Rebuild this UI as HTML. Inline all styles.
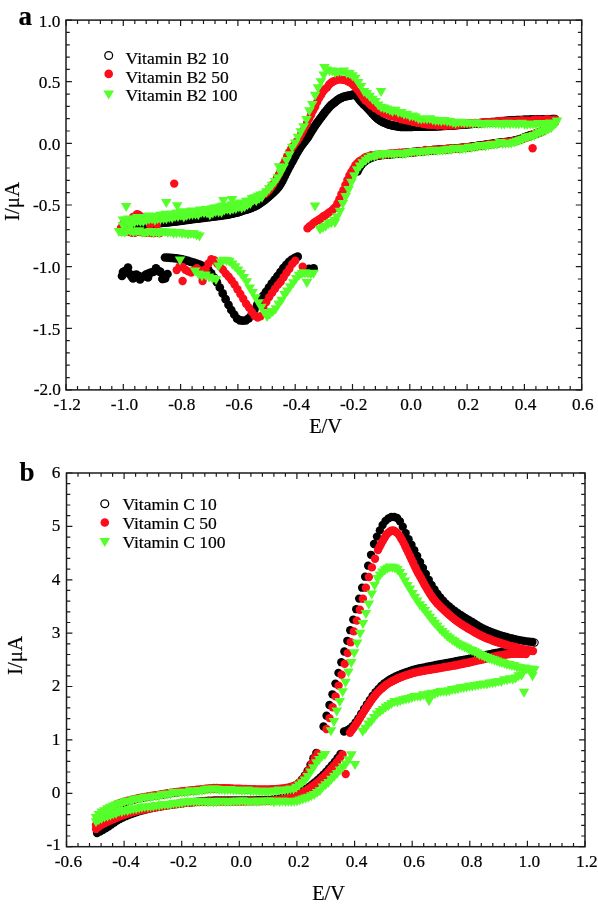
<!DOCTYPE html>
<html lang="en">
<head>
<meta charset="utf-8">
<title>Cyclic voltammograms</title>
<style>html,body{margin:0;padding:0;background:#fff}svg{display:block}</style>
</head>
<body>
<svg width="598" height="907" viewBox="0 0 598 907" font-family='"Liberation Serif", "DejaVu Serif", serif'>
<rect width="598" height="907" fill="#fff"/>
<g>
<g fill="#000000"><circle cx="122" cy="228" r="4.35"/><circle cx="123.4" cy="227.7" r="4.35"/><circle cx="124.9" cy="227.4" r="4.35"/><circle cx="126.3" cy="227.2" r="4.35"/><circle cx="127.7" cy="226.9" r="4.35"/><circle cx="129.1" cy="226.7" r="4.35"/><circle cx="130.6" cy="226.4" r="4.35"/><circle cx="132" cy="226.2" r="4.35"/><circle cx="133.4" cy="225.9" r="4.35"/><circle cx="134.9" cy="225.7" r="4.35"/><circle cx="136.3" cy="225.5" r="4.35"/><circle cx="137.7" cy="225.3" r="4.35"/><circle cx="139.1" cy="225.1" r="4.35"/><circle cx="140.6" cy="224.9" r="4.35"/><circle cx="142" cy="224.8" r="4.35"/><circle cx="143.4" cy="224.6" r="4.35"/><circle cx="144.9" cy="224.4" r="4.35"/><circle cx="146.3" cy="224.3" r="4.35"/><circle cx="147.7" cy="224.2" r="4.35"/><circle cx="149.2" cy="224" r="4.35"/><circle cx="150.6" cy="223.9" r="4.35"/><circle cx="152" cy="223.8" r="4.35"/><circle cx="153.4" cy="223.6" r="4.35"/><circle cx="154.9" cy="223.5" r="4.35"/><circle cx="156.3" cy="223.4" r="4.35"/><circle cx="157.7" cy="223.2" r="4.35"/><circle cx="159.2" cy="223.1" r="4.35"/><circle cx="160.6" cy="222.9" r="4.35"/><circle cx="162" cy="222.8" r="4.35"/><circle cx="163.4" cy="222.7" r="4.35"/><circle cx="164.9" cy="222.5" r="4.35"/><circle cx="166.3" cy="222.4" r="4.35"/><circle cx="167.7" cy="222.3" r="4.35"/><circle cx="169.2" cy="222.1" r="4.35"/><circle cx="170.6" cy="222" r="4.35"/><circle cx="172" cy="221.8" r="4.35"/><circle cx="173.4" cy="221.7" r="4.35"/><circle cx="174.9" cy="221.5" r="4.35"/><circle cx="176.3" cy="221.3" r="4.35"/><circle cx="177.7" cy="221.2" r="4.35"/><circle cx="179.2" cy="221" r="4.35"/><circle cx="180.6" cy="220.8" r="4.35"/><circle cx="182" cy="220.6" r="4.35"/><circle cx="183.4" cy="220.4" r="4.35"/><circle cx="184.9" cy="220.2" r="4.35"/><circle cx="186.3" cy="220" r="4.35"/><circle cx="187.7" cy="219.8" r="4.35"/><circle cx="189.2" cy="219.6" r="4.35"/><circle cx="190.6" cy="219.4" r="4.35"/><circle cx="192" cy="219.2" r="4.35"/><circle cx="193.5" cy="219" r="4.35"/><circle cx="194.9" cy="218.8" r="4.35"/><circle cx="196.3" cy="218.7" r="4.35"/><circle cx="197.7" cy="218.5" r="4.35"/><circle cx="199.2" cy="218.3" r="4.35"/><circle cx="200.6" cy="218.1" r="4.35"/><circle cx="202" cy="217.9" r="4.35"/><circle cx="203.5" cy="217.8" r="4.35"/><circle cx="204.9" cy="217.6" r="4.35"/><circle cx="206.3" cy="217.4" r="4.35"/><circle cx="207.7" cy="217.2" r="4.35"/><circle cx="209.2" cy="217.1" r="4.35"/><circle cx="210.6" cy="216.9" r="4.35"/><circle cx="212" cy="216.7" r="4.35"/><circle cx="213.5" cy="216.5" r="4.35"/><circle cx="214.9" cy="216.3" r="4.35"/><circle cx="216.3" cy="216.2" r="4.35"/><circle cx="217.7" cy="216" r="4.35"/><circle cx="219.2" cy="215.8" r="4.35"/><circle cx="220.6" cy="215.6" r="4.35"/><circle cx="222" cy="215.4" r="4.35"/><circle cx="223.5" cy="215.2" r="4.35"/><circle cx="224.9" cy="215" r="4.35"/><circle cx="226.3" cy="214.8" r="4.35"/><circle cx="227.7" cy="214.5" r="4.35"/><circle cx="229.2" cy="214.3" r="4.35"/><circle cx="230.6" cy="214" r="4.35"/><circle cx="232" cy="213.7" r="4.35"/><circle cx="233.5" cy="213.4" r="4.35"/><circle cx="234.9" cy="213" r="4.35"/><circle cx="236.3" cy="212.7" r="4.35"/><circle cx="237.8" cy="212.3" r="4.35"/><circle cx="239.2" cy="211.9" r="4.35"/><circle cx="240.6" cy="211.4" r="4.35"/><circle cx="242" cy="211" r="4.35"/><circle cx="243.5" cy="210.5" r="4.35"/><circle cx="244.9" cy="210" r="4.35"/><circle cx="246.3" cy="209.6" r="4.35"/><circle cx="247.8" cy="209.1" r="4.35"/><circle cx="249.2" cy="208.6" r="4.35"/><circle cx="250.6" cy="208.1" r="4.35"/><circle cx="252" cy="207.6" r="4.35"/><circle cx="253.5" cy="207" r="4.35"/><circle cx="254.9" cy="206.3" r="4.35"/><circle cx="256.3" cy="205.6" r="4.35"/><circle cx="257.8" cy="204.8" r="4.35"/><circle cx="259.2" cy="203.9" r="4.35"/><circle cx="260.6" cy="203" r="4.35"/><circle cx="262" cy="202" r="4.35"/><circle cx="263.5" cy="200.9" r="4.35"/><circle cx="264.9" cy="199.8" r="4.35"/><circle cx="266.3" cy="198.7" r="4.35"/><circle cx="267.8" cy="197.5" r="4.35"/><circle cx="269.2" cy="196.2" r="4.35"/><circle cx="270.6" cy="194.9" r="4.35"/><circle cx="272" cy="193.7" r="4.35"/><circle cx="273.5" cy="192.4" r="4.35"/><circle cx="274.9" cy="191" r="4.35"/><circle cx="276.3" cy="189.6" r="4.35"/><circle cx="277.8" cy="188" r="4.35"/><circle cx="279.2" cy="186.1" r="4.35"/><circle cx="280.6" cy="183.9" r="4.35"/><circle cx="282.1" cy="181.4" r="4.35"/><circle cx="283.5" cy="178.6" r="4.35"/><circle cx="284.9" cy="175.7" r="4.35"/><circle cx="286.3" cy="172.8" r="4.35"/><circle cx="287.8" cy="169.9" r="4.35"/><circle cx="289.2" cy="167.2" r="4.35"/><circle cx="290.6" cy="164.6" r="4.35"/><circle cx="292.1" cy="161.9" r="4.35"/><circle cx="293.5" cy="159.3" r="4.35"/><circle cx="294.9" cy="156.7" r="4.35"/><circle cx="296.3" cy="154.1" r="4.35"/><circle cx="297.8" cy="151.6" r="4.35"/><circle cx="299.2" cy="149.2" r="4.35"/><circle cx="300.6" cy="147" r="4.35"/><circle cx="302.1" cy="144.9" r="4.35"/><circle cx="303.5" cy="143" r="4.35"/><circle cx="304.9" cy="141.2" r="4.35"/><circle cx="306.3" cy="139.4" r="4.35"/><circle cx="307.8" cy="137.4" r="4.35"/><circle cx="309.2" cy="135.2" r="4.35"/><circle cx="310.6" cy="132.7" r="4.35"/><circle cx="312.1" cy="130.3" r="4.35"/><circle cx="313.5" cy="128.1" r="4.35"/><circle cx="314.9" cy="125.9" r="4.35"/><circle cx="316.3" cy="123.9" r="4.35"/><circle cx="317.8" cy="121.9" r="4.35"/><circle cx="319.2" cy="120" r="4.35"/><circle cx="320.6" cy="118" r="4.35"/><circle cx="322.1" cy="116.1" r="4.35"/><circle cx="323.5" cy="114.2" r="4.35"/><circle cx="324.9" cy="112.3" r="4.35"/><circle cx="326.4" cy="110.5" r="4.35"/><circle cx="327.8" cy="108.8" r="4.35"/><circle cx="329.2" cy="107.1" r="4.35"/><circle cx="330.6" cy="105.7" r="4.35"/><circle cx="332.1" cy="104.4" r="4.35"/><circle cx="333.5" cy="103.2" r="4.35"/><circle cx="334.9" cy="102.1" r="4.35"/><circle cx="336.4" cy="100.9" r="4.35"/><circle cx="337.8" cy="99.8" r="4.35"/><circle cx="339.2" cy="98.8" r="4.35"/><circle cx="340.6" cy="98.1" r="4.35"/><circle cx="342.1" cy="97.5" r="4.35"/><circle cx="343.5" cy="96.9" r="4.35"/><circle cx="344.9" cy="96.5" r="4.35"/><circle cx="346.4" cy="96.2" r="4.35"/><circle cx="347.8" cy="95.9" r="4.35"/><circle cx="349.2" cy="95.7" r="4.35"/><circle cx="350.6" cy="95.3" r="4.35"/><circle cx="352.1" cy="94.9" r="4.35"/><circle cx="353.5" cy="94.6" r="4.35"/><circle cx="354.9" cy="94.9" r="4.35"/><circle cx="356.4" cy="95.9" r="4.35"/><circle cx="357.8" cy="97.4" r="4.35"/><circle cx="359.2" cy="99.5" r="4.35"/><circle cx="360.7" cy="101.2" r="4.35"/><circle cx="362.1" cy="102.7" r="4.35"/><circle cx="363.5" cy="104.1" r="4.35"/><circle cx="364.9" cy="105.4" r="4.35"/><circle cx="366.4" cy="106.9" r="4.35"/><circle cx="367.8" cy="108.4" r="4.35"/><circle cx="369.2" cy="110" r="4.35"/><circle cx="370.7" cy="111.6" r="4.35"/><circle cx="372.1" cy="113.1" r="4.35"/><circle cx="373.5" cy="114.6" r="4.35"/><circle cx="374.9" cy="116.2" r="4.35"/><circle cx="376.4" cy="117.6" r="4.35"/><circle cx="377.8" cy="118.8" r="4.35"/><circle cx="379.2" cy="119.9" r="4.35"/><circle cx="380.7" cy="120.8" r="4.35"/><circle cx="382.1" cy="121.6" r="4.35"/><circle cx="383.5" cy="122.3" r="4.35"/><circle cx="384.9" cy="123" r="4.35"/><circle cx="386.4" cy="123.5" r="4.35"/><circle cx="387.8" cy="124.1" r="4.35"/><circle cx="389.2" cy="124.6" r="4.35"/><circle cx="390.7" cy="125" r="4.35"/><circle cx="392.1" cy="125.4" r="4.35"/><circle cx="393.5" cy="125.7" r="4.35"/><circle cx="394.9" cy="126" r="4.35"/><circle cx="396.4" cy="126.2" r="4.35"/><circle cx="397.8" cy="126.4" r="4.35"/><circle cx="399.2" cy="126.6" r="4.35"/><circle cx="400.7" cy="126.8" r="4.35"/><circle cx="402.1" cy="126.9" r="4.35"/><circle cx="403.5" cy="127" r="4.35"/><circle cx="405" cy="127" r="4.35"/><circle cx="406.4" cy="127" r="4.35"/><circle cx="407.8" cy="127" r="4.35"/><circle cx="409.2" cy="126.9" r="4.35"/><circle cx="410.7" cy="126.8" r="4.35"/><circle cx="412.1" cy="126.8" r="4.35"/><circle cx="413.5" cy="126.7" r="4.35"/><circle cx="415" cy="126.7" r="4.35"/><circle cx="416.4" cy="126.7" r="4.35"/><circle cx="417.8" cy="126.7" r="4.35"/><circle cx="419.2" cy="126.6" r="4.35"/><circle cx="420.7" cy="126.6" r="4.35"/><circle cx="422.1" cy="126.6" r="4.35"/><circle cx="423.5" cy="126.6" r="4.35"/><circle cx="425" cy="126.6" r="4.35"/><circle cx="426.4" cy="126.6" r="4.35"/><circle cx="427.8" cy="126.5" r="4.35"/><circle cx="429.2" cy="126.5" r="4.35"/><circle cx="430.7" cy="126.5" r="4.35"/><circle cx="432.1" cy="126.4" r="4.35"/><circle cx="433.5" cy="126.4" r="4.35"/><circle cx="435" cy="126.3" r="4.35"/><circle cx="436.4" cy="126.3" r="4.35"/><circle cx="437.8" cy="126.2" r="4.35"/><circle cx="439.2" cy="126.1" r="4.35"/><circle cx="440.7" cy="126.1" r="4.35"/><circle cx="442.1" cy="126" r="4.35"/><circle cx="443.5" cy="125.9" r="4.35"/><circle cx="445" cy="125.8" r="4.35"/><circle cx="446.4" cy="125.7" r="4.35"/><circle cx="447.8" cy="125.6" r="4.35"/><circle cx="449.3" cy="125.5" r="4.35"/><circle cx="450.7" cy="125.5" r="4.35"/><circle cx="452.1" cy="125.4" r="4.35"/><circle cx="453.5" cy="125.3" r="4.35"/><circle cx="455" cy="125.2" r="4.35"/><circle cx="456.4" cy="125.1" r="4.35"/><circle cx="457.8" cy="125" r="4.35"/><circle cx="459.3" cy="124.9" r="4.35"/><circle cx="460.7" cy="124.7" r="4.35"/><circle cx="462.1" cy="124.6" r="4.35"/><circle cx="463.5" cy="124.5" r="4.35"/><circle cx="465" cy="124.4" r="4.35"/><circle cx="466.4" cy="124.3" r="4.35"/><circle cx="467.8" cy="124.2" r="4.35"/><circle cx="469.3" cy="124.1" r="4.35"/><circle cx="470.7" cy="123.9" r="4.35"/><circle cx="472.1" cy="123.8" r="4.35"/><circle cx="473.5" cy="123.7" r="4.35"/><circle cx="475" cy="123.6" r="4.35"/><circle cx="476.4" cy="123.5" r="4.35"/><circle cx="477.8" cy="123.4" r="4.35"/><circle cx="479.3" cy="123.3" r="4.35"/><circle cx="480.7" cy="123.2" r="4.35"/><circle cx="482.1" cy="123" r="4.35"/><circle cx="483.5" cy="122.9" r="4.35"/><circle cx="485" cy="122.8" r="4.35"/><circle cx="486.4" cy="122.7" r="4.35"/><circle cx="487.8" cy="122.6" r="4.35"/><circle cx="489.3" cy="122.5" r="4.35"/><circle cx="490.7" cy="122.4" r="4.35"/><circle cx="492.1" cy="122.2" r="4.35"/><circle cx="493.6" cy="122.1" r="4.35"/><circle cx="495" cy="122" r="4.35"/><circle cx="496.4" cy="121.9" r="4.35"/><circle cx="497.8" cy="121.8" r="4.35"/><circle cx="499.3" cy="121.6" r="4.35"/><circle cx="500.7" cy="121.5" r="4.35"/><circle cx="502.1" cy="121.3" r="4.35"/><circle cx="503.6" cy="121.2" r="4.35"/><circle cx="505" cy="121.1" r="4.35"/><circle cx="506.4" cy="120.9" r="4.35"/><circle cx="507.8" cy="120.8" r="4.35"/><circle cx="509.3" cy="120.7" r="4.35"/><circle cx="510.7" cy="120.6" r="4.35"/><circle cx="512.1" cy="120.5" r="4.35"/><circle cx="513.6" cy="120.4" r="4.35"/><circle cx="515" cy="120.3" r="4.35"/><circle cx="516.4" cy="120.2" r="4.35"/><circle cx="517.8" cy="120.2" r="4.35"/><circle cx="519.3" cy="120.1" r="4.35"/><circle cx="520.7" cy="120" r="4.35"/><circle cx="522.1" cy="120" r="4.35"/><circle cx="523.6" cy="119.9" r="4.35"/><circle cx="525" cy="119.9" r="4.35"/><circle cx="526.4" cy="119.8" r="4.35"/><circle cx="527.8" cy="119.8" r="4.35"/><circle cx="529.3" cy="119.8" r="4.35"/><circle cx="530.7" cy="119.7" r="4.35"/><circle cx="532.1" cy="119.7" r="4.35"/><circle cx="533.6" cy="119.6" r="4.35"/><circle cx="535" cy="119.6" r="4.35"/><circle cx="536.4" cy="119.6" r="4.35"/><circle cx="537.9" cy="119.5" r="4.35"/><circle cx="539.3" cy="119.5" r="4.35"/><circle cx="540.7" cy="119.5" r="4.35"/><circle cx="542.1" cy="119.4" r="4.35"/><circle cx="543.6" cy="119.4" r="4.35"/><circle cx="545" cy="119.4" r="4.35"/><circle cx="546.4" cy="119.3" r="4.35"/><circle cx="547.9" cy="119.3" r="4.35"/><circle cx="549.3" cy="119.3" r="4.35"/><circle cx="550.7" cy="119.3" r="4.35"/><circle cx="552.1" cy="119.2" r="4.35"/><circle cx="553.6" cy="119.2" r="4.35"/><circle cx="555" cy="119.2" r="4.35"/><circle cx="357.5" cy="171.5" r="4.35"/><circle cx="358.9" cy="168.6" r="4.35"/><circle cx="360.4" cy="166.1" r="4.35"/><circle cx="361.8" cy="164.1" r="4.35"/><circle cx="363.2" cy="162.6" r="4.35"/><circle cx="364.7" cy="161.3" r="4.35"/><circle cx="366.1" cy="160.3" r="4.35"/><circle cx="367.5" cy="159.4" r="4.35"/><circle cx="369" cy="158.6" r="4.35"/><circle cx="370.4" cy="158" r="4.35"/><circle cx="371.8" cy="157.4" r="4.35"/><circle cx="373.3" cy="156.9" r="4.35"/><circle cx="374.7" cy="156.4" r="4.35"/><circle cx="376.1" cy="156" r="4.35"/><circle cx="377.6" cy="155.7" r="4.35"/><circle cx="379" cy="155.4" r="4.35"/><circle cx="380.4" cy="155.2" r="4.35"/><circle cx="381.9" cy="155" r="4.35"/><circle cx="383.3" cy="154.9" r="4.35"/><circle cx="384.7" cy="154.7" r="4.35"/><circle cx="386.2" cy="154.6" r="4.35"/><circle cx="387.6" cy="154.4" r="4.35"/><circle cx="389" cy="154.3" r="4.35"/><circle cx="390.5" cy="154.2" r="4.35"/><circle cx="391.9" cy="154.1" r="4.35"/><circle cx="393.3" cy="154" r="4.35"/><circle cx="394.8" cy="153.8" r="4.35"/><circle cx="396.2" cy="153.7" r="4.35"/><circle cx="397.6" cy="153.6" r="4.35"/><circle cx="399.1" cy="153.4" r="4.35"/><circle cx="400.5" cy="153.3" r="4.35"/><circle cx="401.9" cy="153.2" r="4.35"/><circle cx="403.4" cy="153.1" r="4.35"/><circle cx="404.8" cy="153" r="4.35"/><circle cx="406.2" cy="152.8" r="4.35"/><circle cx="407.7" cy="152.7" r="4.35"/><circle cx="409.1" cy="152.6" r="4.35"/><circle cx="410.5" cy="152.4" r="4.35"/><circle cx="412" cy="152.3" r="4.35"/><circle cx="413.4" cy="152.2" r="4.35"/><circle cx="414.8" cy="152" r="4.35"/><circle cx="416.3" cy="151.9" r="4.35"/><circle cx="417.7" cy="151.7" r="4.35"/><circle cx="419.1" cy="151.6" r="4.35"/><circle cx="420.6" cy="151.4" r="4.35"/><circle cx="422" cy="151.3" r="4.35"/><circle cx="423.4" cy="151.1" r="4.35"/><circle cx="424.9" cy="151" r="4.35"/><circle cx="426.3" cy="150.9" r="4.35"/><circle cx="427.7" cy="150.7" r="4.35"/><circle cx="429.2" cy="150.6" r="4.35"/><circle cx="430.6" cy="150.4" r="4.35"/><circle cx="432" cy="150.3" r="4.35"/><circle cx="433.5" cy="150.2" r="4.35"/><circle cx="434.9" cy="150.1" r="4.35"/><circle cx="436.3" cy="150" r="4.35"/><circle cx="437.8" cy="149.8" r="4.35"/><circle cx="439.2" cy="149.7" r="4.35"/><circle cx="440.6" cy="149.6" r="4.35"/><circle cx="442.1" cy="149.5" r="4.35"/><circle cx="443.5" cy="149.4" r="4.35"/><circle cx="444.9" cy="149.3" r="4.35"/><circle cx="446.4" cy="149.2" r="4.35"/><circle cx="447.8" cy="149.1" r="4.35"/><circle cx="449.2" cy="149" r="4.35"/><circle cx="450.7" cy="148.9" r="4.35"/><circle cx="452.1" cy="148.8" r="4.35"/><circle cx="453.6" cy="148.6" r="4.35"/><circle cx="455" cy="148.5" r="4.35"/><circle cx="456.4" cy="148.4" r="4.35"/><circle cx="457.9" cy="148.3" r="4.35"/><circle cx="459.3" cy="148.2" r="4.35"/><circle cx="460.7" cy="148" r="4.35"/><circle cx="462.2" cy="147.9" r="4.35"/><circle cx="463.6" cy="147.7" r="4.35"/><circle cx="465" cy="147.6" r="4.35"/><circle cx="466.5" cy="147.4" r="4.35"/><circle cx="467.9" cy="147.3" r="4.35"/><circle cx="469.3" cy="147.1" r="4.35"/><circle cx="470.8" cy="146.9" r="4.35"/><circle cx="472.2" cy="146.7" r="4.35"/><circle cx="473.6" cy="146.5" r="4.35"/><circle cx="475.1" cy="146.3" r="4.35"/><circle cx="476.5" cy="146.1" r="4.35"/><circle cx="477.9" cy="145.9" r="4.35"/><circle cx="479.4" cy="145.7" r="4.35"/><circle cx="480.8" cy="145.5" r="4.35"/><circle cx="482.2" cy="145.3" r="4.35"/><circle cx="483.7" cy="145.1" r="4.35"/><circle cx="485.1" cy="144.9" r="4.35"/><circle cx="486.5" cy="144.6" r="4.35"/><circle cx="488" cy="144.4" r="4.35"/><circle cx="489.4" cy="144.2" r="4.35"/><circle cx="490.8" cy="144" r="4.35"/><circle cx="492.3" cy="143.8" r="4.35"/><circle cx="493.7" cy="143.6" r="4.35"/><circle cx="495.1" cy="143.4" r="4.35"/><circle cx="496.6" cy="143.2" r="4.35"/><circle cx="498" cy="143" r="4.35"/><circle cx="499.4" cy="142.8" r="4.35"/><circle cx="500.9" cy="142.7" r="4.35"/><circle cx="502.3" cy="142.5" r="4.35"/><circle cx="503.7" cy="142.3" r="4.35"/><circle cx="505.2" cy="142.1" r="4.35"/><circle cx="506.6" cy="142" r="4.35"/><circle cx="508" cy="141.8" r="4.35"/><circle cx="509.5" cy="141.6" r="4.35"/><circle cx="510.9" cy="141.3" r="4.35"/><circle cx="512.3" cy="141.1" r="4.35"/><circle cx="513.8" cy="140.8" r="4.35"/><circle cx="515.2" cy="140.6" r="4.35"/><circle cx="516.6" cy="140.2" r="4.35"/><circle cx="518.1" cy="139.8" r="4.35"/><circle cx="519.5" cy="139.3" r="4.35"/><circle cx="520.9" cy="138.8" r="4.35"/><circle cx="522.4" cy="138.3" r="4.35"/><circle cx="523.8" cy="137.7" r="4.35"/><circle cx="525.2" cy="137.2" r="4.35"/><circle cx="526.7" cy="136.7" r="4.35"/><circle cx="528.1" cy="136.2" r="4.35"/><circle cx="529.5" cy="135.7" r="4.35"/><circle cx="531" cy="135.2" r="4.35"/><circle cx="532.4" cy="134.8" r="4.35"/><circle cx="533.8" cy="134.3" r="4.35"/><circle cx="535.3" cy="133.8" r="4.35"/><circle cx="536.7" cy="133.4" r="4.35"/><circle cx="538.1" cy="132.9" r="4.35"/><circle cx="539.6" cy="132.5" r="4.35"/><circle cx="541" cy="132" r="4.35"/><circle cx="122" cy="276" r="4.35"/><circle cx="124.4" cy="271.4" r="4.35"/><circle cx="126.8" cy="270" r="4.35"/><circle cx="129.2" cy="273.7" r="4.35"/><circle cx="131.6" cy="276.4" r="4.35"/><circle cx="134" cy="275.2" r="4.35"/><circle cx="136.4" cy="274.5" r="4.35"/><circle cx="138.8" cy="276.2" r="4.35"/><circle cx="141.2" cy="277.5" r="4.35"/><circle cx="143.6" cy="276.4" r="4.35"/><circle cx="145.9" cy="274.6" r="4.35"/><circle cx="148.3" cy="273.5" r="4.35"/><circle cx="150.7" cy="272.7" r="4.35"/><circle cx="153.1" cy="272" r="4.35"/><circle cx="155.5" cy="270.8" r="4.35"/><circle cx="157.9" cy="270.6" r="4.35"/><circle cx="160.3" cy="271.9" r="4.35"/><circle cx="162.7" cy="278.8" r="4.35"/><circle cx="165.1" cy="278.5" r="4.35"/><circle cx="167.5" cy="274" r="4.35"/><circle cx="165" cy="257.5" r="4.35"/><circle cx="167.9" cy="257.6" r="4.35"/><circle cx="170.8" cy="257.8" r="4.35"/><circle cx="173.7" cy="258.1" r="4.35"/><circle cx="176.5" cy="258.4" r="4.35"/><circle cx="179.4" cy="258.8" r="4.35"/><circle cx="182.3" cy="259.4" r="4.35"/><circle cx="185.2" cy="260.1" r="4.35"/><circle cx="188.1" cy="260.9" r="4.35"/><circle cx="191" cy="261.8" r="4.35"/><circle cx="193.8" cy="262.7" r="4.35"/><circle cx="196.7" cy="263.7" r="4.35"/><circle cx="199.6" cy="264.7" r="4.35"/><circle cx="202.5" cy="265.9" r="4.35"/><circle cx="205.4" cy="267.5" r="4.35"/><circle cx="208.3" cy="269.7" r="4.35"/><circle cx="211.2" cy="273.4" r="4.35"/><circle cx="214" cy="277.5" r="4.35"/><circle cx="216.9" cy="282.2" r="4.35"/><circle cx="219.8" cy="287.5" r="4.35"/><circle cx="222.7" cy="293.4" r="4.35"/><circle cx="225.6" cy="299.2" r="4.35"/><circle cx="228.5" cy="304.8" r="4.35"/><circle cx="231.3" cy="310" r="4.35"/><circle cx="234.2" cy="314.5" r="4.35"/><circle cx="237.1" cy="318.7" r="4.35"/><circle cx="240" cy="320.4" r="4.35"/><circle cx="242.9" cy="320.6" r="4.35"/><circle cx="245.8" cy="320.5" r="4.35"/><circle cx="248.7" cy="318.4" r="4.35"/><circle cx="251.5" cy="315" r="4.35"/><circle cx="254.4" cy="309.7" r="4.35"/><circle cx="257.3" cy="304.5" r="4.35"/><circle cx="260.2" cy="300.1" r="4.35"/><circle cx="263.1" cy="295.9" r="4.35"/><circle cx="266" cy="291.8" r="4.35"/><circle cx="268.9" cy="287.7" r="4.35"/><circle cx="271.7" cy="283.7" r="4.35"/><circle cx="274.6" cy="279.8" r="4.35"/><circle cx="277.5" cy="276" r="4.35"/><circle cx="280.4" cy="272" r="4.35"/><circle cx="283.3" cy="268.2" r="4.35"/><circle cx="286.2" cy="264.8" r="4.35"/><circle cx="289" cy="261.9" r="4.35"/><circle cx="291.9" cy="259.5" r="4.35"/><circle cx="294.8" cy="257.9" r="4.35"/><circle cx="297.7" cy="256.7" r="4.35"/><circle cx="313.6" cy="268.4" r="4.35"/><circle cx="309" cy="268.8" r="4.35"/><circle cx="160" cy="271.8" r="4.35"/><circle cx="162.5" cy="279" r="4.35"/><circle cx="128" cy="267.5" r="4.35"/><circle cx="156" cy="268.3" r="4.35"/><circle cx="140" cy="279.5" r="4.35"/><circle cx="133" cy="278.5" r="4.35"/><circle cx="148" cy="277.5" r="4.35"/><circle cx="123" cy="272" r="4.35"/></g>
<g fill="#fb0d1b"><circle cx="121" cy="228" r="4.2"/><circle cx="123" cy="226.9" r="4.2"/><circle cx="125" cy="225.5" r="4.2"/><circle cx="127" cy="223.9" r="4.2"/><circle cx="129" cy="222.6" r="4.2"/><circle cx="131" cy="220.8" r="4.2"/><circle cx="133" cy="218.9" r="4.2"/><circle cx="135" cy="217.1" r="4.2"/><circle cx="137" cy="215.1" r="4.2"/><circle cx="139" cy="215" r="4.2"/><circle cx="141" cy="216.7" r="4.2"/><circle cx="143" cy="218.5" r="4.2"/><circle cx="145" cy="219.8" r="4.2"/><circle cx="147" cy="219.7" r="4.2"/><circle cx="149" cy="219.8" r="4.2"/><circle cx="151" cy="219.7" r="4.2"/><circle cx="153" cy="218.6" r="4.2"/><circle cx="155" cy="218.4" r="4.2"/><circle cx="157" cy="217.5" r="4.2"/><circle cx="159" cy="217.2" r="4.2"/><circle cx="161" cy="216.6" r="4.2"/><circle cx="163" cy="216.8" r="4.2"/><circle cx="165.1" cy="216.2" r="4.2"/><circle cx="167.1" cy="216.4" r="4.2"/><circle cx="169.1" cy="216.1" r="4.2"/><circle cx="171.1" cy="215.7" r="4.2"/><circle cx="173.1" cy="214.8" r="4.2"/><circle cx="175.1" cy="215.2" r="4.2"/><circle cx="177.1" cy="215.1" r="4.2"/><circle cx="179.1" cy="214.9" r="4.2"/><circle cx="181.1" cy="214.1" r="4.2"/><circle cx="183.1" cy="214.2" r="4.2"/><circle cx="185.1" cy="213.7" r="4.2"/><circle cx="187.1" cy="213.5" r="4.2"/><circle cx="189.1" cy="213.8" r="4.2"/><circle cx="191.1" cy="213" r="4.2"/><circle cx="193.1" cy="213" r="4.2"/><circle cx="195.1" cy="213" r="4.2"/><circle cx="197.1" cy="212.2" r="4.2"/><circle cx="199.1" cy="212.1" r="4.2"/><circle cx="201.1" cy="211.9" r="4.2"/><circle cx="203.1" cy="211.6" r="4.2"/><circle cx="205.1" cy="210.9" r="4.2"/><circle cx="207.1" cy="211" r="4.2"/><circle cx="209.1" cy="211.1" r="4.2"/><circle cx="211.1" cy="209.9" r="4.2"/><circle cx="213.1" cy="210.3" r="4.2"/><circle cx="215.1" cy="209.8" r="4.2"/><circle cx="217.1" cy="209.2" r="4.2"/><circle cx="219.1" cy="209.7" r="4.2"/><circle cx="221.1" cy="208.9" r="4.2"/><circle cx="223.1" cy="208" r="4.2"/><circle cx="225.1" cy="208" r="4.2"/><circle cx="227.1" cy="207.8" r="4.2"/><circle cx="229.1" cy="207.2" r="4.2"/><circle cx="231.1" cy="207" r="4.2"/><circle cx="233.1" cy="206.4" r="4.2"/><circle cx="235.1" cy="206.2" r="4.2"/><circle cx="237.1" cy="206" r="4.2"/><circle cx="239.1" cy="204.9" r="4.2"/><circle cx="241.1" cy="204.7" r="4.2"/><circle cx="243.1" cy="203.9" r="4.2"/><circle cx="245.1" cy="203.5" r="4.2"/><circle cx="247.1" cy="202.4" r="4.2"/><circle cx="249.1" cy="201.7" r="4.2"/><circle cx="251.1" cy="200.8" r="4.2"/><circle cx="253.2" cy="200.2" r="4.2"/><circle cx="255.2" cy="199.3" r="4.2"/><circle cx="257.2" cy="197.6" r="4.2"/><circle cx="259.2" cy="196.9" r="4.2"/><circle cx="261.2" cy="196.4" r="4.2"/><circle cx="263.2" cy="194.6" r="4.2"/><circle cx="265.2" cy="193.7" r="4.2"/><circle cx="267.2" cy="192" r="4.2"/><circle cx="269.2" cy="190.1" r="4.2"/><circle cx="271.2" cy="187.3" r="4.2"/><circle cx="273.2" cy="184.2" r="4.2"/><circle cx="275.2" cy="180.9" r="4.2"/><circle cx="277.2" cy="177.3" r="4.2"/><circle cx="279.2" cy="173.9" r="4.2"/><circle cx="281.2" cy="169" r="4.2"/><circle cx="283.2" cy="164.6" r="4.2"/><circle cx="285.2" cy="160.6" r="4.2"/><circle cx="287.2" cy="156.2" r="4.2"/><circle cx="289.2" cy="152.3" r="4.2"/><circle cx="291.2" cy="148.8" r="4.2"/><circle cx="293.2" cy="146.3" r="4.2"/><circle cx="295.2" cy="143.4" r="4.2"/><circle cx="297.2" cy="141.1" r="4.2"/><circle cx="299.2" cy="137.9" r="4.2"/><circle cx="301.2" cy="134.2" r="4.2"/><circle cx="303.2" cy="130.6" r="4.2"/><circle cx="305.2" cy="126.4" r="4.2"/><circle cx="307.2" cy="122.8" r="4.2"/><circle cx="309.2" cy="118.6" r="4.2"/><circle cx="311.2" cy="114.8" r="4.2"/><circle cx="313.2" cy="110.2" r="4.2"/><circle cx="315.2" cy="106.7" r="4.2"/><circle cx="317.2" cy="102" r="4.2"/><circle cx="319.2" cy="98" r="4.2"/><circle cx="321.2" cy="94.8" r="4.2"/><circle cx="323.2" cy="91.4" r="4.2"/><circle cx="325.2" cy="89.1" r="4.2"/><circle cx="327.2" cy="87.4" r="4.2"/><circle cx="329.2" cy="84.5" r="4.2"/><circle cx="331.2" cy="82.8" r="4.2"/><circle cx="333.2" cy="81.5" r="4.2"/><circle cx="335.2" cy="80.6" r="4.2"/><circle cx="337.2" cy="79.7" r="4.2"/><circle cx="339.3" cy="79.3" r="4.2"/><circle cx="341.3" cy="79.6" r="4.2"/><circle cx="343.3" cy="79.9" r="4.2"/><circle cx="345.3" cy="80" r="4.2"/><circle cx="347.3" cy="81" r="4.2"/><circle cx="349.3" cy="82.1" r="4.2"/><circle cx="351.3" cy="83.1" r="4.2"/><circle cx="353.3" cy="85.1" r="4.2"/><circle cx="355.3" cy="86.7" r="4.2"/><circle cx="357.3" cy="89.4" r="4.2"/><circle cx="359.3" cy="91.7" r="4.2"/><circle cx="361.3" cy="94.8" r="4.2"/><circle cx="363.3" cy="97.7" r="4.2"/><circle cx="365.3" cy="100.3" r="4.2"/><circle cx="367.3" cy="101.6" r="4.2"/><circle cx="369.3" cy="103.6" r="4.2"/><circle cx="371.3" cy="105.6" r="4.2"/><circle cx="373.3" cy="106.2" r="4.2"/><circle cx="375.3" cy="108.4" r="4.2"/><circle cx="377.3" cy="108.9" r="4.2"/><circle cx="379.3" cy="110.9" r="4.2"/><circle cx="381.3" cy="111.5" r="4.2"/><circle cx="383.3" cy="113" r="4.2"/><circle cx="385.3" cy="113.7" r="4.2"/><circle cx="387.3" cy="114" r="4.2"/><circle cx="389.3" cy="115.5" r="4.2"/><circle cx="391.3" cy="116.2" r="4.2"/><circle cx="393.3" cy="116.4" r="4.2"/><circle cx="395.3" cy="117" r="4.2"/><circle cx="397.3" cy="117.7" r="4.2"/><circle cx="399.3" cy="118.1" r="4.2"/><circle cx="401.3" cy="119.3" r="4.2"/><circle cx="403.3" cy="119.4" r="4.2"/><circle cx="405.3" cy="120.1" r="4.2"/><circle cx="407.3" cy="120.3" r="4.2"/><circle cx="409.3" cy="120.7" r="4.2"/><circle cx="411.3" cy="120.9" r="4.2"/><circle cx="413.3" cy="122.1" r="4.2"/><circle cx="415.3" cy="122" r="4.2"/><circle cx="417.3" cy="122.8" r="4.2"/><circle cx="419.3" cy="122.9" r="4.2"/><circle cx="421.3" cy="123.2" r="4.2"/><circle cx="423.3" cy="123.7" r="4.2"/><circle cx="425.4" cy="124.1" r="4.2"/><circle cx="427.4" cy="124.5" r="4.2"/><circle cx="429.4" cy="124.6" r="4.2"/><circle cx="431.4" cy="124.8" r="4.2"/><circle cx="433.4" cy="124.6" r="4.2"/><circle cx="435.4" cy="124.8" r="4.2"/><circle cx="437.4" cy="125.6" r="4.2"/><circle cx="439.4" cy="125" r="4.2"/><circle cx="441.4" cy="125" r="4.2"/><circle cx="443.4" cy="125.4" r="4.2"/><circle cx="445.4" cy="125.8" r="4.2"/><circle cx="447.4" cy="125" r="4.2"/><circle cx="449.4" cy="125.3" r="4.2"/><circle cx="451.4" cy="125.2" r="4.2"/><circle cx="453.4" cy="124.7" r="4.2"/><circle cx="455.4" cy="125.2" r="4.2"/><circle cx="457.4" cy="124.7" r="4.2"/><circle cx="459.4" cy="124.5" r="4.2"/><circle cx="461.4" cy="124.1" r="4.2"/><circle cx="463.4" cy="124.2" r="4.2"/><circle cx="465.4" cy="123.8" r="4.2"/><circle cx="467.4" cy="123.7" r="4.2"/><circle cx="469.4" cy="123.3" r="4.2"/><circle cx="471.4" cy="123.1" r="4.2"/><circle cx="473.4" cy="123.7" r="4.2"/><circle cx="475.4" cy="123" r="4.2"/><circle cx="477.4" cy="123.1" r="4.2"/><circle cx="479.4" cy="122.9" r="4.2"/><circle cx="481.4" cy="122.6" r="4.2"/><circle cx="483.4" cy="122.4" r="4.2"/><circle cx="485.4" cy="122.6" r="4.2"/><circle cx="487.4" cy="122.2" r="4.2"/><circle cx="489.4" cy="122.1" r="4.2"/><circle cx="491.4" cy="122" r="4.2"/><circle cx="493.4" cy="122.2" r="4.2"/><circle cx="495.4" cy="122" r="4.2"/><circle cx="497.4" cy="121.8" r="4.2"/><circle cx="499.4" cy="121.4" r="4.2"/><circle cx="501.4" cy="121" r="4.2"/><circle cx="503.4" cy="121.6" r="4.2"/><circle cx="505.4" cy="121.5" r="4.2"/><circle cx="507.4" cy="121.1" r="4.2"/><circle cx="509.4" cy="121.2" r="4.2"/><circle cx="511.4" cy="121.2" r="4.2"/><circle cx="513.5" cy="121.1" r="4.2"/><circle cx="515.5" cy="121.1" r="4.2"/><circle cx="517.5" cy="120.6" r="4.2"/><circle cx="519.5" cy="121.1" r="4.2"/><circle cx="521.5" cy="120.2" r="4.2"/><circle cx="523.5" cy="120.8" r="4.2"/><circle cx="525.5" cy="120.6" r="4.2"/><circle cx="527.5" cy="120.7" r="4.2"/><circle cx="529.5" cy="120.9" r="4.2"/><circle cx="531.5" cy="120.7" r="4.2"/><circle cx="533.5" cy="119.9" r="4.2"/><circle cx="535.5" cy="119.7" r="4.2"/><circle cx="537.5" cy="120.4" r="4.2"/><circle cx="539.5" cy="119.8" r="4.2"/><circle cx="541.5" cy="120" r="4.2"/><circle cx="543.5" cy="120.3" r="4.2"/><circle cx="545.5" cy="119.5" r="4.2"/><circle cx="547.5" cy="119.3" r="4.2"/><circle cx="549.5" cy="120" r="4.2"/><circle cx="551.5" cy="119.9" r="4.2"/><circle cx="553.5" cy="119.8" r="4.2"/><circle cx="555.5" cy="119.8" r="4.2"/><circle cx="307.5" cy="228.4" r="4.2"/><circle cx="309.5" cy="226.4" r="4.2"/><circle cx="311.5" cy="225.1" r="4.2"/><circle cx="313.5" cy="223.3" r="4.2"/><circle cx="315.5" cy="221.6" r="4.2"/><circle cx="317.5" cy="220.8" r="4.2"/><circle cx="319.5" cy="219.2" r="4.2"/><circle cx="321.5" cy="218" r="4.2"/><circle cx="323.5" cy="216.3" r="4.2"/><circle cx="325.5" cy="215.1" r="4.2"/><circle cx="327.5" cy="213.6" r="4.2"/><circle cx="329.5" cy="212.1" r="4.2"/><circle cx="331.5" cy="210.9" r="4.2"/><circle cx="333.4" cy="209" r="4.2"/><circle cx="335.4" cy="207.1" r="4.2"/><circle cx="337.4" cy="203.5" r="4.2"/><circle cx="339.4" cy="199.3" r="4.2"/><circle cx="341.4" cy="194.1" r="4.2"/><circle cx="343.4" cy="190.1" r="4.2"/><circle cx="345.4" cy="184.9" r="4.2"/><circle cx="347.4" cy="180" r="4.2"/><circle cx="349.4" cy="175.5" r="4.2"/><circle cx="351.4" cy="172" r="4.2"/><circle cx="353.4" cy="168.6" r="4.2"/><circle cx="355.4" cy="165.3" r="4.2"/><circle cx="357.4" cy="163.1" r="4.2"/><circle cx="359.4" cy="161.1" r="4.2"/><circle cx="361.4" cy="160.1" r="4.2"/><circle cx="363.4" cy="158.7" r="4.2"/><circle cx="365.4" cy="157.2" r="4.2"/><circle cx="367.4" cy="156.8" r="4.2"/><circle cx="369.4" cy="156" r="4.2"/><circle cx="371.4" cy="155.2" r="4.2"/><circle cx="373.4" cy="155.5" r="4.2"/><circle cx="375.4" cy="155.7" r="4.2"/><circle cx="377.4" cy="155.1" r="4.2"/><circle cx="379.4" cy="154.5" r="4.2"/><circle cx="381.4" cy="154.3" r="4.2"/><circle cx="383.3" cy="154.7" r="4.2"/><circle cx="385.3" cy="154.2" r="4.2"/><circle cx="387.3" cy="154" r="4.2"/><circle cx="389.3" cy="153.8" r="4.2"/><circle cx="391.3" cy="153.7" r="4.2"/><circle cx="393.3" cy="153.7" r="4.2"/><circle cx="395.3" cy="153.5" r="4.2"/><circle cx="397.3" cy="153.3" r="4.2"/><circle cx="399.3" cy="152.8" r="4.2"/><circle cx="401.3" cy="153.1" r="4.2"/><circle cx="403.3" cy="152.6" r="4.2"/><circle cx="405.3" cy="152.9" r="4.2"/><circle cx="407.3" cy="152.2" r="4.2"/><circle cx="409.3" cy="152.3" r="4.2"/><circle cx="411.3" cy="152.2" r="4.2"/><circle cx="413.3" cy="151.7" r="4.2"/><circle cx="415.3" cy="152.2" r="4.2"/><circle cx="417.3" cy="151.9" r="4.2"/><circle cx="419.3" cy="151.2" r="4.2"/><circle cx="421.3" cy="151.3" r="4.2"/><circle cx="423.3" cy="151" r="4.2"/><circle cx="425.3" cy="150" r="4.2"/><circle cx="427.3" cy="150.5" r="4.2"/><circle cx="429.3" cy="150.3" r="4.2"/><circle cx="431.2" cy="150.1" r="4.2"/><circle cx="433.2" cy="149.7" r="4.2"/><circle cx="435.2" cy="149.7" r="4.2"/><circle cx="437.2" cy="149.6" r="4.2"/><circle cx="439.2" cy="149.8" r="4.2"/><circle cx="441.2" cy="149.4" r="4.2"/><circle cx="443.2" cy="149.2" r="4.2"/><circle cx="445.2" cy="149.5" r="4.2"/><circle cx="447.2" cy="148.8" r="4.2"/><circle cx="449.2" cy="148.7" r="4.2"/><circle cx="451.2" cy="148.2" r="4.2"/><circle cx="453.2" cy="148.9" r="4.2"/><circle cx="455.2" cy="148.7" r="4.2"/><circle cx="457.2" cy="148.5" r="4.2"/><circle cx="459.2" cy="148.3" r="4.2"/><circle cx="461.2" cy="148" r="4.2"/><circle cx="463.2" cy="147.8" r="4.2"/><circle cx="465.2" cy="147.5" r="4.2"/><circle cx="467.2" cy="147.3" r="4.2"/><circle cx="469.2" cy="147.2" r="4.2"/><circle cx="471.2" cy="147.3" r="4.2"/><circle cx="473.2" cy="146.8" r="4.2"/><circle cx="475.2" cy="146.4" r="4.2"/><circle cx="477.2" cy="146" r="4.2"/><circle cx="479.2" cy="145.7" r="4.2"/><circle cx="481.1" cy="146" r="4.2"/><circle cx="483.1" cy="145.4" r="4.2"/><circle cx="485.1" cy="145" r="4.2"/><circle cx="487.1" cy="144.6" r="4.2"/><circle cx="489.1" cy="144.1" r="4.2"/><circle cx="491.1" cy="144.1" r="4.2"/><circle cx="493.1" cy="144.1" r="4.2"/><circle cx="495.1" cy="143.5" r="4.2"/><circle cx="497.1" cy="143.3" r="4.2"/><circle cx="499.1" cy="143" r="4.2"/><circle cx="501.1" cy="142.9" r="4.2"/><circle cx="503.1" cy="142.3" r="4.2"/><circle cx="505.1" cy="142.4" r="4.2"/><circle cx="507.1" cy="142" r="4.2"/><circle cx="509.1" cy="142.2" r="4.2"/><circle cx="511.1" cy="141.5" r="4.2"/><circle cx="513.1" cy="141.5" r="4.2"/><circle cx="515.1" cy="141.4" r="4.2"/><circle cx="517.1" cy="140.5" r="4.2"/><circle cx="519.1" cy="139.9" r="4.2"/><circle cx="521.1" cy="139.4" r="4.2"/><circle cx="523.1" cy="138.7" r="4.2"/><circle cx="525.1" cy="137.7" r="4.2"/><circle cx="527.1" cy="137.3" r="4.2"/><circle cx="529.1" cy="136.9" r="4.2"/><circle cx="531" cy="135.5" r="4.2"/><circle cx="533" cy="134.7" r="4.2"/><circle cx="535" cy="133.7" r="4.2"/><circle cx="537" cy="133.3" r="4.2"/><circle cx="539" cy="132.2" r="4.2"/><circle cx="541" cy="131.5" r="4.2"/><circle cx="543" cy="131.3" r="4.2"/><circle cx="545" cy="129.8" r="4.2"/><circle cx="547" cy="129.1" r="4.2"/><circle cx="549" cy="127.7" r="4.2"/><circle cx="551" cy="125.8" r="4.2"/><circle cx="553" cy="124.1" r="4.2"/><circle cx="555" cy="122.5" r="4.2"/><circle cx="121" cy="231.4" r="4.2"/><circle cx="123.8" cy="231.4" r="4.2"/><circle cx="126.6" cy="231.2" r="4.2"/><circle cx="129.4" cy="232" r="4.2"/><circle cx="132.1" cy="232.9" r="4.2"/><circle cx="134.9" cy="232.8" r="4.2"/><circle cx="137.7" cy="231.9" r="4.2"/><circle cx="140.5" cy="232.1" r="4.2"/><circle cx="143.3" cy="232.4" r="4.2"/><circle cx="146.1" cy="232.8" r="4.2"/><circle cx="148.9" cy="232.7" r="4.2"/><circle cx="151.6" cy="233" r="4.2"/><circle cx="154.4" cy="233.1" r="4.2"/><circle cx="157.2" cy="232.8" r="4.2"/><circle cx="160" cy="233" r="4.2"/><circle cx="176.7" cy="270.1" r="4.2"/><circle cx="179.6" cy="266.4" r="4.2"/><circle cx="182.5" cy="266.9" r="4.2"/><circle cx="185.4" cy="269.8" r="4.2"/><circle cx="188.3" cy="271.4" r="4.2"/><circle cx="191.2" cy="272.6" r="4.2"/><circle cx="194" cy="270.3" r="4.2"/><circle cx="196.9" cy="268.1" r="4.2"/><circle cx="199.8" cy="270.5" r="4.2"/><circle cx="202.7" cy="273.6" r="4.2"/><circle cx="205.6" cy="269.2" r="4.2"/><circle cx="208.5" cy="263.5" r="4.2"/><circle cx="211.4" cy="259.2" r="4.2"/><circle cx="214.3" cy="260.1" r="4.2"/><circle cx="217.2" cy="263.5" r="4.2"/><circle cx="220.1" cy="266.3" r="4.2"/><circle cx="222.9" cy="269.8" r="4.2"/><circle cx="225.8" cy="273.7" r="4.2"/><circle cx="228.7" cy="276.7" r="4.2"/><circle cx="231.6" cy="280.4" r="4.2"/><circle cx="234.5" cy="284.5" r="4.2"/><circle cx="237.4" cy="289.2" r="4.2"/><circle cx="240.3" cy="294" r="4.2"/><circle cx="243.2" cy="298.7" r="4.2"/><circle cx="246.1" cy="303.8" r="4.2"/><circle cx="249" cy="307.6" r="4.2"/><circle cx="251.8" cy="312" r="4.2"/><circle cx="254.7" cy="315.8" r="4.2"/><circle cx="257.6" cy="317.5" r="4.2"/><circle cx="260.5" cy="316.2" r="4.2"/><circle cx="263.4" cy="308.1" r="4.2"/><circle cx="266.3" cy="302.1" r="4.2"/><circle cx="269.2" cy="297.1" r="4.2"/><circle cx="272.1" cy="292.9" r="4.2"/><circle cx="275" cy="288.7" r="4.2"/><circle cx="277.9" cy="284.9" r="4.2"/><circle cx="280.7" cy="281.7" r="4.2"/><circle cx="283.6" cy="277.2" r="4.2"/><circle cx="286.5" cy="272.9" r="4.2"/><circle cx="289.4" cy="268.8" r="4.2"/><circle cx="292.3" cy="263.9" r="4.2"/><circle cx="295.2" cy="260.7" r="4.2"/><circle cx="174.2" cy="183.6" r="4.2"/><circle cx="532.6" cy="148.2" r="4.2"/><circle cx="302.7" cy="266.7" r="4.2"/><circle cx="182.6" cy="281" r="4.2"/><circle cx="202.6" cy="281" r="4.2"/><circle cx="122.9" cy="224.5" r="4.2"/><circle cx="137" cy="214.2" r="4.2"/><circle cx="133" cy="217" r="4.2"/><circle cx="157" cy="224.5" r="4.2"/><circle cx="150" cy="225" r="4.2"/></g>
<path fill="#55ff2a" d="M117.7 216.6h10.6l-5.3 9zM120.6 216.3h10.6l-5.3 9zM123.4 215.6h10.6l-5.3 9zM126.3 215.9h10.6l-5.3 9zM129.2 215.2h10.6l-5.3 9zM132 214.1h10.6l-5.3 9zM134.9 214h10.6l-5.3 9zM137.8 214.6h10.6l-5.3 9zM140.6 214.1h10.6l-5.3 9zM143.5 212.6h10.6l-5.3 9zM146.4 213.9h10.6l-5.3 9zM149.2 213.1h10.6l-5.3 9zM152.1 213.1h10.6l-5.3 9zM155 211.8h10.6l-5.3 9zM157.8 211.5h10.6l-5.3 9zM160.7 210.7h10.6l-5.3 9zM163.6 212.2h10.6l-5.3 9zM166.4 210.5h10.6l-5.3 9zM169.3 211h10.6l-5.3 9zM172.2 209.5h10.6l-5.3 9zM175.1 209.5h10.6l-5.3 9zM177.9 208.3h10.6l-5.3 9zM180.8 208.5h10.6l-5.3 9zM183.7 208.8h10.6l-5.3 9zM186.5 207.4h10.6l-5.3 9zM189.4 208.2h10.6l-5.3 9zM192.3 207.4h10.6l-5.3 9zM195.1 206.4h10.6l-5.3 9zM198 206.4h10.6l-5.3 9zM200.9 206h10.6l-5.3 9zM203.7 205.9h10.6l-5.3 9zM206.6 205.2h10.6l-5.3 9zM209.5 204.6h10.6l-5.3 9zM212.3 204.3h10.6l-5.3 9zM215.2 203.3h10.6l-5.3 9zM218.1 202.6h10.6l-5.3 9zM220.9 202.8h10.6l-5.3 9zM223.8 202.9h10.6l-5.3 9zM226.7 201.3h10.6l-5.3 9zM229.5 201.5h10.6l-5.3 9zM232.4 200.5h10.6l-5.3 9zM235.3 199.5h10.6l-5.3 9zM238.1 199.5h10.6l-5.3 9zM241 197.7h10.6l-5.3 9zM243.9 197.5h10.6l-5.3 9zM246.7 195h10.6l-5.3 9zM249.6 194.2h10.6l-5.3 9zM252.5 192.8h10.6l-5.3 9zM255.3 191.4h10.6l-5.3 9zM258.2 190.7h10.6l-5.3 9zM261.1 188.2h10.6l-5.3 9zM263.9 185.2h10.6l-5.3 9zM266.8 181.8h10.6l-5.3 9zM269.7 178h10.6l-5.3 9zM272.5 174.2h10.6l-5.3 9zM275.4 169.2h10.6l-5.3 9zM278.3 163.8h10.6l-5.3 9zM281.2 157.1h10.6l-5.3 9zM284 151.2h10.6l-5.3 9zM286.9 143.8h10.6l-5.3 9zM289.8 139.4h10.6l-5.3 9zM292.6 133.8h10.6l-5.3 9zM295.5 128.2h10.6l-5.3 9zM298.4 123.3h10.6l-5.3 9zM301.2 116h10.6l-5.3 9zM304.1 107.2h10.6l-5.3 9zM307 100.9h10.6l-5.3 9zM309.8 91.7h10.6l-5.3 9zM312.7 84.2h10.6l-5.3 9zM315.6 78.2h10.6l-5.3 9zM318.4 71.6h10.6l-5.3 9zM321.3 66.6h10.6l-5.3 9zM324.2 67.3h10.6l-5.3 9zM327 67.4h10.6l-5.3 9zM329.9 68.9h10.6l-5.3 9zM332.8 68.2h10.6l-5.3 9zM335.6 68h10.6l-5.3 9zM338.5 67.6h10.6l-5.3 9zM341.4 69.7h10.6l-5.3 9zM344.2 70h10.6l-5.3 9zM347.1 72.3h10.6l-5.3 9zM350 74.8h10.6l-5.3 9zM352.8 78.9h10.6l-5.3 9zM355.7 82.9h10.6l-5.3 9zM358.6 88h10.6l-5.3 9zM361.4 90h10.6l-5.3 9zM364.3 92.8h10.6l-5.3 9zM367.2 95.8h10.6l-5.3 9zM370 98.1h10.6l-5.3 9zM372.9 101.5h10.6l-5.3 9zM375.8 103.7h10.6l-5.3 9zM378.6 104.6h10.6l-5.3 9zM381.5 105.4h10.6l-5.3 9zM384.4 106.6h10.6l-5.3 9zM387.2 108.1h10.6l-5.3 9zM390.1 106.7h10.6l-5.3 9zM393 109h10.6l-5.3 9zM395.9 108.9h10.6l-5.3 9zM398.7 110.7h10.6l-5.3 9zM401.6 110.8h10.6l-5.3 9zM404.5 112.5h10.6l-5.3 9zM407.3 112.6h10.6l-5.3 9zM410.2 113.6h10.6l-5.3 9zM413.1 115.3h10.6l-5.3 9zM415.9 115.5h10.6l-5.3 9zM418.8 115.3h10.6l-5.3 9zM421.7 115.5h10.6l-5.3 9zM424.5 115.3h10.6l-5.3 9zM427.4 116.4h10.6l-5.3 9zM430.3 116.9h10.6l-5.3 9zM433.1 117.1h10.6l-5.3 9zM436 117.4h10.6l-5.3 9zM438.9 117.1h10.6l-5.3 9zM441.7 117.8h10.6l-5.3 9zM444.6 118.1h10.6l-5.3 9zM447.5 119h10.6l-5.3 9zM450.3 119.5h10.6l-5.3 9zM453.2 118.8h10.6l-5.3 9zM456.1 118.7h10.6l-5.3 9zM458.9 119.3h10.6l-5.3 9zM461.8 119.2h10.6l-5.3 9zM464.7 119.2h10.6l-5.3 9zM467.5 119.7h10.6l-5.3 9zM470.4 119.3h10.6l-5.3 9zM473.3 120.2h10.6l-5.3 9zM476.1 119.9h10.6l-5.3 9zM479 120.1h10.6l-5.3 9zM481.9 120h10.6l-5.3 9zM484.7 119.7h10.6l-5.3 9zM487.6 119.7h10.6l-5.3 9zM490.5 120.1h10.6l-5.3 9zM493.3 120h10.6l-5.3 9zM496.2 120.5h10.6l-5.3 9zM499.1 120.4h10.6l-5.3 9zM502 119.8h10.6l-5.3 9zM504.8 120.6h10.6l-5.3 9zM507.7 119.9h10.6l-5.3 9zM510.6 120.3h10.6l-5.3 9zM513.4 120.5h10.6l-5.3 9zM516.3 119.7h10.6l-5.3 9zM519.2 120.7h10.6l-5.3 9zM522 120.8h10.6l-5.3 9zM524.9 120.6h10.6l-5.3 9zM527.8 120.4h10.6l-5.3 9zM530.6 120.4h10.6l-5.3 9zM533.5 120.1h10.6l-5.3 9zM536.4 120.4h10.6l-5.3 9zM539.2 120.1h10.6l-5.3 9zM542.1 120.3h10.6l-5.3 9zM545 119.4h10.6l-5.3 9zM547.8 119.8h10.6l-5.3 9zM550.7 119.4h10.6l-5.3 9zM314.7 225.7h10.6l-5.3 9zM317.6 224.1h10.6l-5.3 9zM320.4 222.8h10.6l-5.3 9zM323.3 220h10.6l-5.3 9zM326.1 219h10.6l-5.3 9zM329 216.7h10.6l-5.3 9zM331.8 213.2h10.6l-5.3 9zM334.7 207.8h10.6l-5.3 9zM337.5 200.1h10.6l-5.3 9zM340.4 193.1h10.6l-5.3 9zM343.3 186.1h10.6l-5.3 9zM346.1 178.7h10.6l-5.3 9zM349 172.3h10.6l-5.3 9zM351.8 166.3h10.6l-5.3 9zM354.7 162.4h10.6l-5.3 9zM357.5 159.3h10.6l-5.3 9zM360.4 156.8h10.6l-5.3 9zM363.2 154.8h10.6l-5.3 9zM366.1 152.8h10.6l-5.3 9zM369 152.8h10.6l-5.3 9zM371.8 151.6h10.6l-5.3 9zM374.7 150.2h10.6l-5.3 9zM377.5 151h10.6l-5.3 9zM380.4 150.1h10.6l-5.3 9zM383.2 149.9h10.6l-5.3 9zM386.1 150h10.6l-5.3 9zM388.9 150.6h10.6l-5.3 9zM391.8 149.7h10.6l-5.3 9zM394.7 149.8h10.6l-5.3 9zM397.5 150.2h10.6l-5.3 9zM400.4 149.9h10.6l-5.3 9zM403.2 149.1h10.6l-5.3 9zM406.1 148.8h10.6l-5.3 9zM408.9 148.1h10.6l-5.3 9zM411.8 148.1h10.6l-5.3 9zM414.6 148.2h10.6l-5.3 9zM417.5 147.9h10.6l-5.3 9zM420.4 147.5h10.6l-5.3 9zM423.2 147.6h10.6l-5.3 9zM426.1 146.7h10.6l-5.3 9zM428.9 146.8h10.6l-5.3 9zM431.8 146.9h10.6l-5.3 9zM434.6 146.7h10.6l-5.3 9zM437.5 146.7h10.6l-5.3 9zM440.3 146.2h10.6l-5.3 9zM443.2 145.8h10.6l-5.3 9zM446 145.9h10.6l-5.3 9zM448.9 145.1h10.6l-5.3 9zM451.8 144.7h10.6l-5.3 9zM454.6 145.4h10.6l-5.3 9zM457.5 145h10.6l-5.3 9zM460.3 144.9h10.6l-5.3 9zM463.2 143.7h10.6l-5.3 9zM466 143.9h10.6l-5.3 9zM468.9 143.4h10.6l-5.3 9zM471.7 142.9h10.6l-5.3 9zM474.6 141.9h10.6l-5.3 9zM477.5 142.3h10.6l-5.3 9zM480.3 142.4h10.6l-5.3 9zM483.2 141.8h10.6l-5.3 9zM486 141h10.6l-5.3 9zM488.9 140.9h10.6l-5.3 9zM491.7 140.8h10.6l-5.3 9zM494.6 139.1h10.6l-5.3 9zM497.4 139.9h10.6l-5.3 9zM500.3 139.8h10.6l-5.3 9zM503.2 139.5h10.6l-5.3 9zM506 139.5h10.6l-5.3 9zM508.9 138.8h10.6l-5.3 9zM511.7 137.8h10.6l-5.3 9zM514.6 136.7h10.6l-5.3 9zM517.4 135.7h10.6l-5.3 9zM520.3 134.1h10.6l-5.3 9zM523.1 133.3h10.6l-5.3 9zM526 132.7h10.6l-5.3 9zM528.9 132.1h10.6l-5.3 9zM531.7 130.2h10.6l-5.3 9zM534.6 129.1h10.6l-5.3 9zM537.4 127.9h10.6l-5.3 9zM540.3 127.1h10.6l-5.3 9zM543.1 125.2h10.6l-5.3 9zM546 124.3h10.6l-5.3 9zM548.8 121h10.6l-5.3 9zM551.7 117.4h10.6l-5.3 9zM113.7 227.9h10.6l-5.3 9zM116.6 228.6h10.6l-5.3 9zM119.5 228.8h10.6l-5.3 9zM122.3 227.1h10.6l-5.3 9zM125.2 227.5h10.6l-5.3 9zM128.1 228.4h10.6l-5.3 9zM130.9 227.8h10.6l-5.3 9zM133.8 227.2h10.6l-5.3 9zM136.7 229.1h10.6l-5.3 9zM139.6 228.7h10.6l-5.3 9zM142.4 228.8h10.6l-5.3 9zM145.3 228.1h10.6l-5.3 9zM148.2 229.2h10.6l-5.3 9zM151.1 228.4h10.6l-5.3 9zM153.9 229.4h10.6l-5.3 9zM156.8 228.1h10.6l-5.3 9zM159.7 228.2h10.6l-5.3 9zM162.6 229.1h10.6l-5.3 9zM165.4 228.6h10.6l-5.3 9zM168.3 229.7h10.6l-5.3 9zM171.2 229.6h10.6l-5.3 9zM174.1 229h10.6l-5.3 9zM176.9 229.9h10.6l-5.3 9zM179.8 229.8h10.6l-5.3 9zM182.7 230.8h10.6l-5.3 9zM185.6 229.9h10.6l-5.3 9zM188.4 230.3h10.6l-5.3 9zM191.3 231.6h10.6l-5.3 9zM194.2 232.6h10.6l-5.3 9zM117.7 222.1h10.6l-5.3 9zM120.6 220.1h10.6l-5.3 9zM123.5 219.8h10.6l-5.3 9zM126.4 220.4h10.6l-5.3 9zM129.3 218.7h10.6l-5.3 9zM132.2 217.6h10.6l-5.3 9zM135.1 218.1h10.6l-5.3 9zM138 218.1h10.6l-5.3 9zM140.9 216.7h10.6l-5.3 9zM143.8 215.7h10.6l-5.3 9zM146.7 215.5h10.6l-5.3 9zM149.6 216.8h10.6l-5.3 9zM152.4 215.2h10.6l-5.3 9zM155.3 215.4h10.6l-5.3 9zM158.2 215.3h10.6l-5.3 9zM161.1 215.2h10.6l-5.3 9zM164 214.1h10.6l-5.3 9zM166.9 214.4h10.6l-5.3 9zM169.8 212.9h10.6l-5.3 9zM172.7 213h10.6l-5.3 9zM175.6 212.1h10.6l-5.3 9zM178.5 213.4h10.6l-5.3 9zM181.4 212.1h10.6l-5.3 9zM184.3 211.2h10.6l-5.3 9zM187.2 211.1h10.6l-5.3 9zM190.1 210.8h10.6l-5.3 9zM193 211.2h10.6l-5.3 9zM195.9 209.1h10.6l-5.3 9zM198.8 209.2h10.6l-5.3 9zM201.7 209.4h10.6l-5.3 9zM204.6 211.3h10.6l-5.3 9zM207.5 209.6h10.6l-5.3 9zM210.4 208.3h10.6l-5.3 9zM213.3 208.4h10.6l-5.3 9zM216.2 208.8h10.6l-5.3 9zM219.1 206.4h10.6l-5.3 9zM221.9 205.8h10.6l-5.3 9zM224.8 206.6h10.6l-5.3 9zM227.7 205.6h10.6l-5.3 9zM230.6 205.1h10.6l-5.3 9zM233.5 203.4h10.6l-5.3 9zM236.4 204.5h10.6l-5.3 9zM239.3 203.3h10.6l-5.3 9zM242.2 201.3h10.6l-5.3 9zM245.1 200.1h10.6l-5.3 9zM248 196.5h10.6l-5.3 9zM250.9 197.2h10.6l-5.3 9zM253.8 195h10.6l-5.3 9zM256.7 193.8h10.6l-5.3 9zM218.2 256.7h10.6l-5.3 9zM221.1 256.9h10.6l-5.3 9zM224 257.7h10.6l-5.3 9zM226.9 260.5h10.6l-5.3 9zM229.8 263.2h10.6l-5.3 9zM232.7 266.6h10.6l-5.3 9zM235.6 270h10.6l-5.3 9zM238.5 274.1h10.6l-5.3 9zM241.5 278.2h10.6l-5.3 9zM244.4 284.6h10.6l-5.3 9zM247.3 289.1h10.6l-5.3 9zM250.2 294.2h10.6l-5.3 9zM253.1 299.2h10.6l-5.3 9zM256 303.8h10.6l-5.3 9zM258.9 309h10.6l-5.3 9zM261.8 313h10.6l-5.3 9zM264.7 310.5h10.6l-5.3 9zM267.6 308h10.6l-5.3 9zM270.5 305.2h10.6l-5.3 9zM273.4 300.5h10.6l-5.3 9zM276.3 296.7h10.6l-5.3 9zM279.2 291.1h10.6l-5.3 9zM282.1 287.5h10.6l-5.3 9zM285 283.3h10.6l-5.3 9zM288 279.2h10.6l-5.3 9zM290.9 275h10.6l-5.3 9zM293.8 271.7h10.6l-5.3 9zM296.7 270.1h10.6l-5.3 9zM299.6 269.3h10.6l-5.3 9zM302.5 269.8h10.6l-5.3 9zM305.4 270.3h10.6l-5.3 9zM308.3 269.7h10.6l-5.3 9zM174.7 256.5h10.6l-5.3 9zM189.7 267.5h10.6l-5.3 9zM193.2 270.5h10.6l-5.3 9zM196.7 272.5h10.6l-5.3 9zM200.2 271.5h10.6l-5.3 9zM203.7 273.5h10.6l-5.3 9zM207.2 275h10.6l-5.3 9zM210.7 276h10.6l-5.3 9zM213.2 262.5h10.6l-5.3 9zM215.7 258.5h10.6l-5.3 9zM120.9 203.1h10.6l-5.3 9zM161 198.9h10.6l-5.3 9zM171.9 202.2h10.6l-5.3 9zM218.1 197h10.6l-5.3 9zM309.7 202.4h10.6l-5.3 9zM375.8 88.1h10.6l-5.3 9zM301.6 279h10.6l-5.3 9zM329.7 219.1h10.6l-5.3 9zM319.2 64h10.6l-5.3 9zM273.7 163.3h10.6l-5.3 9zM226.7 196h10.6l-5.3 9z"/>
<rect x="66" y="20.1" width="515.7" height="369.8" fill="none" stroke="#1c1c1c" stroke-width="1.5"/><path d="M66 389.9v-5.9M66 20.1v5.9M77.5 389.9v-3.8M77.5 20.1v3.8M88.9 389.9v-3.8M88.9 20.1v3.8M100.4 389.9v-3.8M100.4 20.1v3.8M111.8 389.9v-3.8M111.8 20.1v3.8M123.3 389.9v-5.9M123.3 20.1v5.9M134.8 389.9v-3.8M134.8 20.1v3.8M146.2 389.9v-3.8M146.2 20.1v3.8M157.7 389.9v-3.8M157.7 20.1v3.8M169.1 389.9v-3.8M169.1 20.1v3.8M180.6 389.9v-5.9M180.6 20.1v5.9M192.1 389.9v-3.8M192.1 20.1v3.8M203.5 389.9v-3.8M203.5 20.1v3.8M215 389.9v-3.8M215 20.1v3.8M226.4 389.9v-3.8M226.4 20.1v3.8M237.9 389.9v-5.9M237.9 20.1v5.9M249.4 389.9v-3.8M249.4 20.1v3.8M260.8 389.9v-3.8M260.8 20.1v3.8M272.3 389.9v-3.8M272.3 20.1v3.8M283.7 389.9v-3.8M283.7 20.1v3.8M295.2 389.9v-5.9M295.2 20.1v5.9M306.7 389.9v-3.8M306.7 20.1v3.8M318.1 389.9v-3.8M318.1 20.1v3.8M329.6 389.9v-3.8M329.6 20.1v3.8M341 389.9v-3.8M341 20.1v3.8M352.5 389.9v-5.9M352.5 20.1v5.9M364 389.9v-3.8M364 20.1v3.8M375.4 389.9v-3.8M375.4 20.1v3.8M386.9 389.9v-3.8M386.9 20.1v3.8M398.3 389.9v-3.8M398.3 20.1v3.8M409.8 389.9v-5.9M409.8 20.1v5.9M421.3 389.9v-3.8M421.3 20.1v3.8M432.7 389.9v-3.8M432.7 20.1v3.8M444.2 389.9v-3.8M444.2 20.1v3.8M455.6 389.9v-3.8M455.6 20.1v3.8M467.1 389.9v-5.9M467.1 20.1v5.9M478.6 389.9v-3.8M478.6 20.1v3.8M490 389.9v-3.8M490 20.1v3.8M501.5 389.9v-3.8M501.5 20.1v3.8M512.9 389.9v-3.8M512.9 20.1v3.8M524.4 389.9v-5.9M524.4 20.1v5.9M535.9 389.9v-3.8M535.9 20.1v3.8M547.3 389.9v-3.8M547.3 20.1v3.8M558.8 389.9v-3.8M558.8 20.1v3.8M570.2 389.9v-3.8M570.2 20.1v3.8M581.7 389.9v-5.9M581.7 20.1v5.9M66 20.1h5.9M581.7 20.1h-5.9M66 32.4h3.8M581.7 32.4h-3.8M66 44.8h3.8M581.7 44.8h-3.8M66 57.1h3.8M581.7 57.1h-3.8M66 69.4h3.8M581.7 69.4h-3.8M66 81.7h5.9M581.7 81.7h-5.9M66 94.1h3.8M581.7 94.1h-3.8M66 106.4h3.8M581.7 106.4h-3.8M66 118.7h3.8M581.7 118.7h-3.8M66 131h3.8M581.7 131h-3.8M66 143.4h5.9M581.7 143.4h-5.9M66 155.7h3.8M581.7 155.7h-3.8M66 168h3.8M581.7 168h-3.8M66 180.3h3.8M581.7 180.3h-3.8M66 192.7h3.8M581.7 192.7h-3.8M66 205h5.9M581.7 205h-5.9M66 217.3h3.8M581.7 217.3h-3.8M66 229.7h3.8M581.7 229.7h-3.8M66 242h3.8M581.7 242h-3.8M66 254.3h3.8M581.7 254.3h-3.8M66 266.6h5.9M581.7 266.6h-5.9M66 279h3.8M581.7 279h-3.8M66 291.3h3.8M581.7 291.3h-3.8M66 303.6h3.8M581.7 303.6h-3.8M66 315.9h3.8M581.7 315.9h-3.8M66 328.3h5.9M581.7 328.3h-5.9M66 340.6h3.8M581.7 340.6h-3.8M66 352.9h3.8M581.7 352.9h-3.8M66 365.2h3.8M581.7 365.2h-3.8M66 377.6h3.8M581.7 377.6h-3.8M66 389.9h5.9M581.7 389.9h-5.9" stroke="#1c1c1c" stroke-width="1.2" fill="none"/><g font-size="17.25" fill="#000" stroke="#000" stroke-width="0.2"><text x="67.2" y="410" text-anchor="middle">-1.2</text><text x="124.5" y="410" text-anchor="middle">-1.0</text><text x="181.8" y="410" text-anchor="middle">-0.8</text><text x="239.1" y="410" text-anchor="middle">-0.6</text><text x="296.4" y="410" text-anchor="middle">-0.4</text><text x="353.7" y="410" text-anchor="middle">-0.2</text><text x="411" y="410" text-anchor="middle">0.0</text><text x="468.3" y="410" text-anchor="middle">0.2</text><text x="525.6" y="410" text-anchor="middle">0.4</text><text x="582.9" y="410" text-anchor="middle">0.6</text><text x="60.4" y="26.5" text-anchor="end">1.0</text><text x="60.4" y="88.1" text-anchor="end">0.5</text><text x="60.4" y="149.8" text-anchor="end">0.0</text><text x="60.4" y="211.4" text-anchor="end">-0.5</text><text x="60.4" y="273" text-anchor="end">-1.0</text><text x="60.4" y="334.7" text-anchor="end">-1.5</text><text x="61" y="395.1" text-anchor="end">-2.0</text></g>
<circle cx="108.7" cy="55.5" r="3.9" fill="#fff" stroke="#000" stroke-width="1.3"/><circle cx="108.7" cy="73.9" r="4.3" fill="#fb0d1b"/><path fill="#55ff2a" d="M103.4 90.6h10.6l-5.3 9z"/><g font-size="17.55" fill="#000" stroke="#000" stroke-width="0.2"><text x="125.6" y="63.8">Vitamin B2 10</text><text x="125.6" y="82.5">Vitamin B2 50</text><text x="125.6" y="101">Vitamin B2 100</text></g>
<text x="18.5" y="24.8" font-size="27" font-weight="bold" fill="#000" stroke="#000" stroke-width="0.2">a</text>
<text x="325.5" y="433.2" font-size="20.3" text-anchor="middle" fill="#000" stroke="#000" stroke-width="0.2">E/V</text>
<text transform="translate(19.4 201.5) rotate(-90)" font-size="20.8" text-anchor="middle" fill="#000" stroke="#000" stroke-width="0.2">I/μA</text>
</g>
<g>
<circle cx="534.6" cy="642.6" r="3.6" fill="#fff" stroke="#000" stroke-width="1.1"/>
<g fill="#000000"><circle cx="97" cy="826" r="4.15"/><circle cx="99.9" cy="818" r="4.15"/><circle cx="102.8" cy="814" r="4.15"/><circle cx="105.7" cy="811.6" r="4.15"/><circle cx="108.5" cy="809.9" r="4.15"/><circle cx="111.4" cy="808.1" r="4.15"/><circle cx="114.3" cy="806.6" r="4.15"/><circle cx="117.2" cy="805.2" r="4.15"/><circle cx="120.1" cy="804" r="4.15"/><circle cx="123" cy="802.9" r="4.15"/><circle cx="125.9" cy="802" r="4.15"/><circle cx="128.7" cy="801.1" r="4.15"/><circle cx="131.6" cy="800.3" r="4.15"/><circle cx="134.5" cy="799.5" r="4.15"/><circle cx="137.4" cy="798.9" r="4.15"/><circle cx="140.3" cy="798.2" r="4.15"/><circle cx="143.2" cy="797.7" r="4.15"/><circle cx="146.1" cy="797.2" r="4.15"/><circle cx="148.9" cy="796.7" r="4.15"/><circle cx="151.8" cy="796.2" r="4.15"/><circle cx="154.7" cy="795.8" r="4.15"/><circle cx="157.6" cy="795.4" r="4.15"/><circle cx="160.5" cy="794.9" r="4.15"/><circle cx="163.4" cy="794.5" r="4.15"/><circle cx="166.3" cy="794" r="4.15"/><circle cx="169.1" cy="793.5" r="4.15"/><circle cx="172" cy="793.1" r="4.15"/><circle cx="174.9" cy="792.7" r="4.15"/><circle cx="177.8" cy="792.3" r="4.15"/><circle cx="180.7" cy="791.9" r="4.15"/><circle cx="183.6" cy="791.6" r="4.15"/><circle cx="186.5" cy="791.3" r="4.15"/><circle cx="189.3" cy="791" r="4.15"/><circle cx="192.2" cy="790.7" r="4.15"/><circle cx="195.1" cy="790.5" r="4.15"/><circle cx="198" cy="790.2" r="4.15"/><circle cx="200.9" cy="789.9" r="4.15"/><circle cx="203.8" cy="789.6" r="4.15"/><circle cx="206.7" cy="789.2" r="4.15"/><circle cx="209.5" cy="788.8" r="4.15"/><circle cx="212.4" cy="788.6" r="4.15"/><circle cx="215.3" cy="788.5" r="4.15"/><circle cx="218.2" cy="788.5" r="4.15"/><circle cx="221.1" cy="788.6" r="4.15"/><circle cx="224" cy="788.7" r="4.15"/><circle cx="226.8" cy="788.8" r="4.15"/><circle cx="229.7" cy="788.9" r="4.15"/><circle cx="232.6" cy="789" r="4.15"/><circle cx="235.5" cy="789.1" r="4.15"/><circle cx="238.4" cy="789.2" r="4.15"/><circle cx="241.3" cy="789.3" r="4.15"/><circle cx="244.2" cy="789.4" r="4.15"/><circle cx="247" cy="789.5" r="4.15"/><circle cx="249.9" cy="789.7" r="4.15"/><circle cx="252.8" cy="789.8" r="4.15"/><circle cx="255.7" cy="789.8" r="4.15"/><circle cx="258.6" cy="789.9" r="4.15"/><circle cx="261.5" cy="790" r="4.15"/><circle cx="264.4" cy="790" r="4.15"/><circle cx="267.2" cy="790" r="4.15"/><circle cx="270.1" cy="789.9" r="4.15"/><circle cx="273" cy="789.7" r="4.15"/><circle cx="275.9" cy="789.5" r="4.15"/><circle cx="278.8" cy="789.2" r="4.15"/><circle cx="281.7" cy="788.9" r="4.15"/><circle cx="284.6" cy="788.6" r="4.15"/><circle cx="287.4" cy="788.1" r="4.15"/><circle cx="290.3" cy="787.3" r="4.15"/><circle cx="293.2" cy="786.3" r="4.15"/><circle cx="296.1" cy="784.9" r="4.15"/><circle cx="299" cy="782.7" r="4.15"/><circle cx="301.9" cy="779.4" r="4.15"/><circle cx="304.8" cy="775.5" r="4.15"/><circle cx="307.6" cy="770.6" r="4.15"/><circle cx="310.5" cy="764.6" r="4.15"/><circle cx="313.4" cy="758.2" r="4.15"/><circle cx="316.3" cy="752.9" r="4.15"/><circle cx="323.5" cy="726.5" r="4.15"/><circle cx="326.5" cy="715.7" r="4.15"/><circle cx="329.4" cy="705" r="4.15"/><circle cx="332.4" cy="694.3" r="4.15"/><circle cx="335.4" cy="683.6" r="4.15"/><circle cx="338.4" cy="672.9" r="4.15"/><circle cx="341.3" cy="662.2" r="4.15"/><circle cx="344.3" cy="651.5" r="4.15"/><circle cx="347.3" cy="640.8" r="4.15"/><circle cx="350.2" cy="630.2" r="4.15"/><circle cx="353.2" cy="619.6" r="4.15"/><circle cx="356.2" cy="609.2" r="4.15"/><circle cx="359.1" cy="598.6" r="4.15"/><circle cx="362.1" cy="587.7" r="4.15"/><circle cx="365.1" cy="576.7" r="4.15"/><circle cx="368.1" cy="565.7" r="4.15"/><circle cx="371" cy="554.8" r="4.15"/><circle cx="374" cy="544" r="4.15"/><circle cx="376.9" cy="536.6" r="4.15"/><circle cx="379.8" cy="530.4" r="4.15"/><circle cx="382.6" cy="525" r="4.15"/><circle cx="385.5" cy="520.9" r="4.15"/><circle cx="388.4" cy="518.4" r="4.15"/><circle cx="391.3" cy="517" r="4.15"/><circle cx="394.2" cy="517" r="4.15"/><circle cx="397.1" cy="518" r="4.15"/><circle cx="399.9" cy="521.3" r="4.15"/><circle cx="402.8" cy="526.7" r="4.15"/><circle cx="405.7" cy="533.1" r="4.15"/><circle cx="408.6" cy="539.2" r="4.15"/><circle cx="411.5" cy="544.7" r="4.15"/><circle cx="414.3" cy="550.2" r="4.15"/><circle cx="417.2" cy="556" r="4.15"/><circle cx="420.1" cy="561.9" r="4.15"/><circle cx="423" cy="567.9" r="4.15"/><circle cx="425.9" cy="574" r="4.15"/><circle cx="428.8" cy="579.8" r="4.15"/><circle cx="431.6" cy="584.9" r="4.15"/><circle cx="434.5" cy="589.5" r="4.15"/><circle cx="437.4" cy="593.7" r="4.15"/><circle cx="440.3" cy="597.4" r="4.15"/><circle cx="443.2" cy="600.7" r="4.15"/><circle cx="446" cy="603.6" r="4.15"/><circle cx="448.9" cy="606.2" r="4.15"/><circle cx="451.8" cy="608.6" r="4.15"/><circle cx="454.7" cy="610.8" r="4.15"/><circle cx="457.6" cy="612.9" r="4.15"/><circle cx="460.5" cy="614.8" r="4.15"/><circle cx="463.3" cy="616.6" r="4.15"/><circle cx="466.2" cy="618.4" r="4.15"/><circle cx="469.1" cy="620.1" r="4.15"/><circle cx="472" cy="621.8" r="4.15"/><circle cx="474.9" cy="623.6" r="4.15"/><circle cx="477.7" cy="625.4" r="4.15"/><circle cx="480.6" cy="627.1" r="4.15"/><circle cx="483.5" cy="628.6" r="4.15"/><circle cx="486.4" cy="629.9" r="4.15"/><circle cx="489.3" cy="631.1" r="4.15"/><circle cx="492.2" cy="632.3" r="4.15"/><circle cx="495" cy="633.3" r="4.15"/><circle cx="497.9" cy="634.3" r="4.15"/><circle cx="500.8" cy="635.3" r="4.15"/><circle cx="503.7" cy="636.2" r="4.15"/><circle cx="506.6" cy="637" r="4.15"/><circle cx="509.4" cy="637.8" r="4.15"/><circle cx="512.3" cy="638.5" r="4.15"/><circle cx="515.2" cy="639.2" r="4.15"/><circle cx="518.1" cy="639.8" r="4.15"/><circle cx="521" cy="640.3" r="4.15"/><circle cx="523.9" cy="640.8" r="4.15"/><circle cx="526.7" cy="641.3" r="4.15"/><circle cx="529.6" cy="641.7" r="4.15"/><circle cx="532.5" cy="642" r="4.15"/><circle cx="344" cy="731.5" r="4.15"/><circle cx="346.9" cy="730.4" r="4.15"/><circle cx="349.7" cy="728.7" r="4.15"/><circle cx="352.6" cy="726.1" r="4.15"/><circle cx="355.5" cy="722.4" r="4.15"/><circle cx="358.3" cy="718.4" r="4.15"/><circle cx="361.2" cy="713.7" r="4.15"/><circle cx="364.1" cy="708.8" r="4.15"/><circle cx="366.9" cy="704.3" r="4.15"/><circle cx="369.8" cy="699.9" r="4.15"/><circle cx="372.6" cy="695.8" r="4.15"/><circle cx="375.5" cy="692.2" r="4.15"/><circle cx="378.4" cy="689" r="4.15"/><circle cx="381.2" cy="686" r="4.15"/><circle cx="384.1" cy="683.5" r="4.15"/><circle cx="387" cy="681.4" r="4.15"/><circle cx="389.8" cy="679.5" r="4.15"/><circle cx="392.7" cy="677.9" r="4.15"/><circle cx="395.6" cy="676.4" r="4.15"/><circle cx="398.4" cy="675.1" r="4.15"/><circle cx="401.3" cy="673.9" r="4.15"/><circle cx="404.2" cy="672.8" r="4.15"/><circle cx="407" cy="671.8" r="4.15"/><circle cx="409.9" cy="670.9" r="4.15"/><circle cx="412.7" cy="670" r="4.15"/><circle cx="415.6" cy="669.2" r="4.15"/><circle cx="418.5" cy="668.5" r="4.15"/><circle cx="421.3" cy="667.9" r="4.15"/><circle cx="424.2" cy="667.3" r="4.15"/><circle cx="427.1" cy="666.7" r="4.15"/><circle cx="429.9" cy="666.1" r="4.15"/><circle cx="432.8" cy="665.6" r="4.15"/><circle cx="435.7" cy="665" r="4.15"/><circle cx="438.5" cy="664.5" r="4.15"/><circle cx="441.4" cy="663.9" r="4.15"/><circle cx="444.3" cy="663.4" r="4.15"/><circle cx="447.1" cy="662.8" r="4.15"/><circle cx="450" cy="662.3" r="4.15"/><circle cx="452.8" cy="661.8" r="4.15"/><circle cx="455.7" cy="661.2" r="4.15"/><circle cx="458.6" cy="660.7" r="4.15"/><circle cx="461.4" cy="660.2" r="4.15"/><circle cx="464.3" cy="659.6" r="4.15"/><circle cx="467.2" cy="659.1" r="4.15"/><circle cx="470" cy="658.5" r="4.15"/><circle cx="472.9" cy="657.9" r="4.15"/><circle cx="475.8" cy="657.3" r="4.15"/><circle cx="478.6" cy="656.6" r="4.15"/><circle cx="481.5" cy="656" r="4.15"/><circle cx="484.4" cy="655.3" r="4.15"/><circle cx="487.2" cy="654.7" r="4.15"/><circle cx="490.1" cy="654.1" r="4.15"/><circle cx="492.9" cy="653.5" r="4.15"/><circle cx="495.8" cy="652.9" r="4.15"/><circle cx="498.7" cy="652.4" r="4.15"/><circle cx="501.5" cy="651.9" r="4.15"/><circle cx="504.4" cy="651.5" r="4.15"/><circle cx="507.3" cy="651" r="4.15"/><circle cx="510.1" cy="650.6" r="4.15"/><circle cx="513" cy="650.2" r="4.15"/><circle cx="97" cy="833" r="4.15"/><circle cx="99.9" cy="831.6" r="4.15"/><circle cx="102.7" cy="830.1" r="4.15"/><circle cx="105.6" cy="828.4" r="4.15"/><circle cx="108.5" cy="826.5" r="4.15"/><circle cx="111.3" cy="824.6" r="4.15"/><circle cx="114.2" cy="822.5" r="4.15"/><circle cx="117.1" cy="820.6" r="4.15"/><circle cx="119.9" cy="819" r="4.15"/><circle cx="122.8" cy="817.5" r="4.15"/><circle cx="125.6" cy="816.2" r="4.15"/><circle cx="128.5" cy="815.1" r="4.15"/><circle cx="131.4" cy="814" r="4.15"/><circle cx="134.2" cy="813" r="4.15"/><circle cx="137.1" cy="812" r="4.15"/><circle cx="140" cy="811.1" r="4.15"/><circle cx="142.8" cy="810.3" r="4.15"/><circle cx="145.7" cy="809.5" r="4.15"/><circle cx="148.6" cy="808.8" r="4.15"/><circle cx="151.4" cy="808.2" r="4.15"/><circle cx="154.3" cy="807.6" r="4.15"/><circle cx="157.2" cy="807.1" r="4.15"/><circle cx="160" cy="806.6" r="4.15"/><circle cx="162.9" cy="806.1" r="4.15"/><circle cx="165.8" cy="805.6" r="4.15"/><circle cx="168.6" cy="805.2" r="4.15"/><circle cx="171.5" cy="804.8" r="4.15"/><circle cx="174.3" cy="804.4" r="4.15"/><circle cx="177.2" cy="804" r="4.15"/><circle cx="180.1" cy="803.6" r="4.15"/><circle cx="182.9" cy="803.3" r="4.15"/><circle cx="185.8" cy="802.9" r="4.15"/><circle cx="188.7" cy="802.6" r="4.15"/><circle cx="191.5" cy="802.3" r="4.15"/><circle cx="194.4" cy="802" r="4.15"/><circle cx="197.3" cy="801.7" r="4.15"/><circle cx="200.1" cy="801.4" r="4.15"/><circle cx="203" cy="801.1" r="4.15"/><circle cx="205.9" cy="800.9" r="4.15"/><circle cx="208.7" cy="800.7" r="4.15"/><circle cx="211.6" cy="800.6" r="4.15"/><circle cx="214.5" cy="800.5" r="4.15"/><circle cx="217.3" cy="800.5" r="4.15"/><circle cx="220.2" cy="800.5" r="4.15"/><circle cx="223" cy="800.5" r="4.15"/><circle cx="225.9" cy="800.5" r="4.15"/><circle cx="228.8" cy="800.5" r="4.15"/><circle cx="231.6" cy="800.5" r="4.15"/><circle cx="234.5" cy="800.5" r="4.15"/><circle cx="237.4" cy="800.5" r="4.15"/><circle cx="240.2" cy="800.5" r="4.15"/><circle cx="243.1" cy="800.5" r="4.15"/><circle cx="246" cy="800.5" r="4.15"/><circle cx="248.8" cy="800.4" r="4.15"/><circle cx="251.7" cy="800.4" r="4.15"/><circle cx="254.6" cy="800.3" r="4.15"/><circle cx="257.4" cy="800.2" r="4.15"/><circle cx="260.3" cy="800.2" r="4.15"/><circle cx="263.2" cy="800.1" r="4.15"/><circle cx="266" cy="800" r="4.15"/><circle cx="268.9" cy="799.8" r="4.15"/><circle cx="271.7" cy="799.6" r="4.15"/><circle cx="274.6" cy="799.2" r="4.15"/><circle cx="277.5" cy="798.9" r="4.15"/><circle cx="280.3" cy="798.4" r="4.15"/><circle cx="283.2" cy="797.9" r="4.15"/><circle cx="286.1" cy="797.3" r="4.15"/><circle cx="288.9" cy="796.7" r="4.15"/><circle cx="291.8" cy="796" r="4.15"/><circle cx="294.7" cy="795.1" r="4.15"/><circle cx="297.5" cy="793.8" r="4.15"/><circle cx="300.4" cy="792.3" r="4.15"/><circle cx="303.3" cy="790.6" r="4.15"/><circle cx="306.1" cy="788.8" r="4.15"/><circle cx="309" cy="786.9" r="4.15"/><circle cx="311.9" cy="784.7" r="4.15"/><circle cx="314.7" cy="782.4" r="4.15"/><circle cx="317.6" cy="780" r="4.15"/><circle cx="320.4" cy="777.4" r="4.15"/><circle cx="323.3" cy="774.6" r="4.15"/><circle cx="326.2" cy="771.6" r="4.15"/><circle cx="329" cy="768.5" r="4.15"/><circle cx="331.9" cy="765.2" r="4.15"/><circle cx="334.8" cy="761.7" r="4.15"/><circle cx="337.6" cy="757.9" r="4.15"/><circle cx="340.5" cy="754" r="4.15"/></g>
<g fill="#fb0d1b"><circle cx="96" cy="825" r="4.2"/><circle cx="98.9" cy="818" r="4.2"/><circle cx="101.8" cy="813.7" r="4.2"/><circle cx="104.6" cy="811.2" r="4.2"/><circle cx="107.5" cy="809.4" r="4.2"/><circle cx="110.4" cy="807.8" r="4.2"/><circle cx="113.3" cy="806.1" r="4.2"/><circle cx="116.1" cy="804.6" r="4.2"/><circle cx="119" cy="803.4" r="4.2"/><circle cx="121.9" cy="802.4" r="4.2"/><circle cx="124.8" cy="801.4" r="4.2"/><circle cx="127.6" cy="800.6" r="4.2"/><circle cx="130.5" cy="799.9" r="4.2"/><circle cx="133.4" cy="799.2" r="4.2"/><circle cx="136.3" cy="798.6" r="4.2"/><circle cx="139.1" cy="798" r="4.2"/><circle cx="142" cy="797.4" r="4.2"/><circle cx="144.9" cy="796.9" r="4.2"/><circle cx="147.8" cy="796.4" r="4.2"/><circle cx="150.7" cy="795.9" r="4.2"/><circle cx="153.5" cy="795.5" r="4.2"/><circle cx="156.4" cy="795.1" r="4.2"/><circle cx="159.3" cy="794.6" r="4.2"/><circle cx="162.2" cy="794.2" r="4.2"/><circle cx="165" cy="793.7" r="4.2"/><circle cx="167.9" cy="793.2" r="4.2"/><circle cx="170.8" cy="792.8" r="4.2"/><circle cx="173.7" cy="792.4" r="4.2"/><circle cx="176.5" cy="791.9" r="4.2"/><circle cx="179.4" cy="791.6" r="4.2"/><circle cx="182.3" cy="791.2" r="4.2"/><circle cx="185.2" cy="790.9" r="4.2"/><circle cx="188.1" cy="790.6" r="4.2"/><circle cx="190.9" cy="790.4" r="4.2"/><circle cx="193.8" cy="790.1" r="4.2"/><circle cx="196.7" cy="789.8" r="4.2"/><circle cx="199.6" cy="789.5" r="4.2"/><circle cx="202.4" cy="789.2" r="4.2"/><circle cx="205.3" cy="788.8" r="4.2"/><circle cx="208.2" cy="788.5" r="4.2"/><circle cx="211.1" cy="788.2" r="4.2"/><circle cx="213.9" cy="788" r="4.2"/><circle cx="216.8" cy="788" r="4.2"/><circle cx="219.7" cy="788.1" r="4.2"/><circle cx="222.6" cy="788.1" r="4.2"/><circle cx="225.4" cy="788.2" r="4.2"/><circle cx="228.3" cy="788.3" r="4.2"/><circle cx="231.2" cy="788.5" r="4.2"/><circle cx="234.1" cy="788.6" r="4.2"/><circle cx="237" cy="788.7" r="4.2"/><circle cx="239.8" cy="788.8" r="4.2"/><circle cx="242.7" cy="788.9" r="4.2"/><circle cx="245.6" cy="789" r="4.2"/><circle cx="248.5" cy="789.1" r="4.2"/><circle cx="251.3" cy="789.2" r="4.2"/><circle cx="254.2" cy="789.3" r="4.2"/><circle cx="257.1" cy="789.4" r="4.2"/><circle cx="260" cy="789.5" r="4.2"/><circle cx="262.8" cy="789.5" r="4.2"/><circle cx="265.7" cy="789.5" r="4.2"/><circle cx="268.6" cy="789.4" r="4.2"/><circle cx="271.5" cy="789.3" r="4.2"/><circle cx="274.4" cy="789.2" r="4.2"/><circle cx="277.2" cy="788.9" r="4.2"/><circle cx="280.1" cy="788.7" r="4.2"/><circle cx="283" cy="788.4" r="4.2"/><circle cx="285.9" cy="788" r="4.2"/><circle cx="288.7" cy="787.5" r="4.2"/><circle cx="291.6" cy="786.7" r="4.2"/><circle cx="294.5" cy="785.7" r="4.2"/><circle cx="297.4" cy="784.3" r="4.2"/><circle cx="300.2" cy="781.9" r="4.2"/><circle cx="303.1" cy="778.6" r="4.2"/><circle cx="306" cy="774.6" r="4.2"/><circle cx="308.9" cy="769.7" r="4.2"/><circle cx="311.7" cy="763.7" r="4.2"/><circle cx="314.6" cy="757.9" r="4.2"/><circle cx="317.5" cy="753.5" r="4.2"/><circle cx="326.5" cy="729" r="4.2"/><circle cx="329.5" cy="718.1" r="4.2"/><circle cx="332.6" cy="707.3" r="4.2"/><circle cx="335.6" cy="696.4" r="4.2"/><circle cx="338.6" cy="685.6" r="4.2"/><circle cx="341.6" cy="674.7" r="4.2"/><circle cx="344.7" cy="663.9" r="4.2"/><circle cx="347.7" cy="653.1" r="4.2"/><circle cx="350.7" cy="642.2" r="4.2"/><circle cx="353.8" cy="631.4" r="4.2"/><circle cx="356.8" cy="620.6" r="4.2"/><circle cx="359.8" cy="609.7" r="4.2"/><circle cx="362.9" cy="598.8" r="4.2"/><circle cx="365.9" cy="587.8" r="4.2"/><circle cx="368.9" cy="577" r="4.2"/><circle cx="371.9" cy="567.4" r="4.2"/><circle cx="375" cy="558.7" r="4.2"/><circle cx="378" cy="550" r="4.2"/><circle cx="379.6" cy="546.7" r="4.2"/><circle cx="381.2" cy="543.7" r="4.2"/><circle cx="382.8" cy="540.9" r="4.2"/><circle cx="384.4" cy="538.1" r="4.2"/><circle cx="386" cy="535.4" r="4.2"/><circle cx="387.6" cy="533.4" r="4.2"/><circle cx="389.2" cy="532.1" r="4.2"/><circle cx="390.8" cy="531" r="4.2"/><circle cx="392.4" cy="530.5" r="4.2"/><circle cx="394" cy="530.8" r="4.2"/><circle cx="395.6" cy="531.7" r="4.2"/><circle cx="397.2" cy="532.9" r="4.2"/><circle cx="398.8" cy="534.6" r="4.2"/><circle cx="400.4" cy="537.2" r="4.2"/><circle cx="402" cy="539.9" r="4.2"/><circle cx="403.6" cy="542.9" r="4.2"/><circle cx="405.2" cy="546.2" r="4.2"/><circle cx="406.8" cy="549.5" r="4.2"/><circle cx="408.4" cy="552.9" r="4.2"/><circle cx="410" cy="556.3" r="4.2"/><circle cx="411.6" cy="559.7" r="4.2"/><circle cx="413.2" cy="563.1" r="4.2"/><circle cx="414.8" cy="566.5" r="4.2"/><circle cx="416.4" cy="569.7" r="4.2"/><circle cx="417.9" cy="572.7" r="4.2"/><circle cx="419.5" cy="575.5" r="4.2"/><circle cx="421.1" cy="578.3" r="4.2"/><circle cx="422.7" cy="581.2" r="4.2"/><circle cx="424.3" cy="584.2" r="4.2"/><circle cx="425.9" cy="587" r="4.2"/><circle cx="427.5" cy="589.7" r="4.2"/><circle cx="429.1" cy="592.3" r="4.2"/><circle cx="430.7" cy="594.9" r="4.2"/><circle cx="432.3" cy="597.3" r="4.2"/><circle cx="433.9" cy="599.4" r="4.2"/><circle cx="435.5" cy="601.3" r="4.2"/><circle cx="437.1" cy="603.2" r="4.2"/><circle cx="438.7" cy="604.8" r="4.2"/><circle cx="440.3" cy="606.5" r="4.2"/><circle cx="441.9" cy="608" r="4.2"/><circle cx="443.5" cy="609.5" r="4.2"/><circle cx="445.1" cy="611.1" r="4.2"/><circle cx="446.7" cy="612.5" r="4.2"/><circle cx="448.3" cy="614" r="4.2"/><circle cx="449.9" cy="615.4" r="4.2"/><circle cx="451.5" cy="616.8" r="4.2"/><circle cx="453.1" cy="618.1" r="4.2"/><circle cx="454.7" cy="619.4" r="4.2"/><circle cx="456.3" cy="620.6" r="4.2"/><circle cx="457.9" cy="621.8" r="4.2"/><circle cx="459.5" cy="622.9" r="4.2"/><circle cx="461.1" cy="624" r="4.2"/><circle cx="462.7" cy="625" r="4.2"/><circle cx="464.3" cy="626.1" r="4.2"/><circle cx="465.9" cy="627" r="4.2"/><circle cx="467.5" cy="628" r="4.2"/><circle cx="469.1" cy="629" r="4.2"/><circle cx="470.7" cy="629.9" r="4.2"/><circle cx="472.3" cy="630.8" r="4.2"/><circle cx="473.9" cy="631.8" r="4.2"/><circle cx="475.5" cy="632.7" r="4.2"/><circle cx="477.1" cy="633.6" r="4.2"/><circle cx="478.7" cy="634.4" r="4.2"/><circle cx="480.3" cy="635.3" r="4.2"/><circle cx="481.9" cy="636" r="4.2"/><circle cx="483.5" cy="636.8" r="4.2"/><circle cx="485.1" cy="637.5" r="4.2"/><circle cx="486.7" cy="638.2" r="4.2"/><circle cx="488.3" cy="638.8" r="4.2"/><circle cx="489.9" cy="639.4" r="4.2"/><circle cx="491.5" cy="640" r="4.2"/><circle cx="493.1" cy="640.6" r="4.2"/><circle cx="494.6" cy="641.2" r="4.2"/><circle cx="496.2" cy="641.7" r="4.2"/><circle cx="497.8" cy="642.3" r="4.2"/><circle cx="499.4" cy="642.8" r="4.2"/><circle cx="501" cy="643.3" r="4.2"/><circle cx="502.6" cy="643.8" r="4.2"/><circle cx="504.2" cy="644.3" r="4.2"/><circle cx="505.8" cy="644.7" r="4.2"/><circle cx="507.4" cy="645.2" r="4.2"/><circle cx="509" cy="645.6" r="4.2"/><circle cx="510.6" cy="646.1" r="4.2"/><circle cx="512.2" cy="646.5" r="4.2"/><circle cx="513.8" cy="647" r="4.2"/><circle cx="515.4" cy="647.4" r="4.2"/><circle cx="517" cy="647.8" r="4.2"/><circle cx="518.6" cy="648.3" r="4.2"/><circle cx="520.2" cy="648.6" r="4.2"/><circle cx="521.8" cy="649" r="4.2"/><circle cx="523.4" cy="649.4" r="4.2"/><circle cx="525" cy="649.7" r="4.2"/><circle cx="526.6" cy="650" r="4.2"/><circle cx="528.2" cy="650.3" r="4.2"/><circle cx="529.8" cy="650.5" r="4.2"/><circle cx="531.4" cy="650.8" r="4.2"/><circle cx="533" cy="651" r="4.2"/><circle cx="350" cy="732.8" r="4.2"/><circle cx="352" cy="730.1" r="4.2"/><circle cx="354" cy="727.2" r="4.2"/><circle cx="356" cy="724.3" r="4.2"/><circle cx="358" cy="721.2" r="4.2"/><circle cx="360" cy="718" r="4.2"/><circle cx="362" cy="714.7" r="4.2"/><circle cx="364" cy="711.4" r="4.2"/><circle cx="366" cy="708.3" r="4.2"/><circle cx="368" cy="705.2" r="4.2"/><circle cx="370" cy="702.2" r="4.2"/><circle cx="372" cy="699.3" r="4.2"/><circle cx="374" cy="696.7" r="4.2"/><circle cx="376" cy="694.3" r="4.2"/><circle cx="378" cy="692.1" r="4.2"/><circle cx="380" cy="690.1" r="4.2"/><circle cx="382" cy="688.2" r="4.2"/><circle cx="384" cy="686.5" r="4.2"/><circle cx="386" cy="685" r="4.2"/><circle cx="388" cy="683.6" r="4.2"/><circle cx="390" cy="682.4" r="4.2"/><circle cx="392" cy="681.2" r="4.2"/><circle cx="394" cy="680.2" r="4.2"/><circle cx="396" cy="679.2" r="4.2"/><circle cx="398" cy="678.3" r="4.2"/><circle cx="400" cy="677.5" r="4.2"/><circle cx="402" cy="676.7" r="4.2"/><circle cx="404" cy="675.9" r="4.2"/><circle cx="406" cy="675.2" r="4.2"/><circle cx="408" cy="674.6" r="4.2"/><circle cx="410" cy="674" r="4.2"/><circle cx="412" cy="673.4" r="4.2"/><circle cx="414" cy="672.8" r="4.2"/><circle cx="416" cy="672.4" r="4.2"/><circle cx="418" cy="671.9" r="4.2"/><circle cx="420" cy="671.5" r="4.2"/><circle cx="422" cy="671.1" r="4.2"/><circle cx="424" cy="670.7" r="4.2"/><circle cx="426" cy="670.4" r="4.2"/><circle cx="428" cy="670" r="4.2"/><circle cx="430" cy="669.7" r="4.2"/><circle cx="432" cy="669.4" r="4.2"/><circle cx="434" cy="669" r="4.2"/><circle cx="436" cy="668.7" r="4.2"/><circle cx="438" cy="668.4" r="4.2"/><circle cx="440" cy="668" r="4.2"/><circle cx="442" cy="667.6" r="4.2"/><circle cx="444" cy="667.3" r="4.2"/><circle cx="446" cy="666.9" r="4.2"/><circle cx="448" cy="666.6" r="4.2"/><circle cx="450" cy="666.2" r="4.2"/><circle cx="452" cy="665.9" r="4.2"/><circle cx="454" cy="665.5" r="4.2"/><circle cx="456" cy="665.2" r="4.2"/><circle cx="458" cy="664.8" r="4.2"/><circle cx="460" cy="664.4" r="4.2"/><circle cx="462" cy="664" r="4.2"/><circle cx="464" cy="663.5" r="4.2"/><circle cx="466" cy="663.1" r="4.2"/><circle cx="468" cy="662.7" r="4.2"/><circle cx="470" cy="662.2" r="4.2"/><circle cx="472" cy="661.8" r="4.2"/><circle cx="474" cy="661.3" r="4.2"/><circle cx="476" cy="660.9" r="4.2"/><circle cx="478" cy="660.4" r="4.2"/><circle cx="480" cy="660" r="4.2"/><circle cx="482" cy="659.5" r="4.2"/><circle cx="484" cy="659.1" r="4.2"/><circle cx="486" cy="658.6" r="4.2"/><circle cx="488" cy="658.1" r="4.2"/><circle cx="490" cy="657.6" r="4.2"/><circle cx="492" cy="657.1" r="4.2"/><circle cx="494" cy="656.6" r="4.2"/><circle cx="496" cy="656.2" r="4.2"/><circle cx="498" cy="655.8" r="4.2"/><circle cx="500" cy="655.4" r="4.2"/><circle cx="502" cy="655.1" r="4.2"/><circle cx="504" cy="654.8" r="4.2"/><circle cx="506" cy="654.5" r="4.2"/><circle cx="508" cy="654.2" r="4.2"/><circle cx="510" cy="654" r="4.2"/><circle cx="512" cy="653.8" r="4.2"/><circle cx="514" cy="653.7" r="4.2"/><circle cx="516" cy="653.7" r="4.2"/><circle cx="518" cy="653.7" r="4.2"/><circle cx="520" cy="653.7" r="4.2"/><circle cx="522" cy="653.8" r="4.2"/><circle cx="524" cy="653.9" r="4.2"/><circle cx="526" cy="654" r="4.2"/><circle cx="96" cy="829" r="4.2"/><circle cx="98.9" cy="826.8" r="4.2"/><circle cx="101.7" cy="824.9" r="4.2"/><circle cx="104.6" cy="823.2" r="4.2"/><circle cx="107.5" cy="821.8" r="4.2"/><circle cx="110.3" cy="820.5" r="4.2"/><circle cx="113.2" cy="819.2" r="4.2"/><circle cx="116.1" cy="818.1" r="4.2"/><circle cx="118.9" cy="816.9" r="4.2"/><circle cx="121.8" cy="815.8" r="4.2"/><circle cx="124.7" cy="814.7" r="4.2"/><circle cx="127.5" cy="813.7" r="4.2"/><circle cx="130.4" cy="812.9" r="4.2"/><circle cx="133.3" cy="812.1" r="4.2"/><circle cx="136.1" cy="811.4" r="4.2"/><circle cx="139" cy="810.8" r="4.2"/><circle cx="141.9" cy="810.1" r="4.2"/><circle cx="144.7" cy="809.5" r="4.2"/><circle cx="147.6" cy="809" r="4.2"/><circle cx="150.5" cy="808.4" r="4.2"/><circle cx="153.3" cy="807.9" r="4.2"/><circle cx="156.2" cy="807.3" r="4.2"/><circle cx="159.1" cy="806.8" r="4.2"/><circle cx="161.9" cy="806.3" r="4.2"/><circle cx="164.8" cy="805.8" r="4.2"/><circle cx="167.7" cy="805.4" r="4.2"/><circle cx="170.5" cy="804.9" r="4.2"/><circle cx="173.4" cy="804.5" r="4.2"/><circle cx="176.3" cy="804.1" r="4.2"/><circle cx="179.1" cy="803.7" r="4.2"/><circle cx="182" cy="803.3" r="4.2"/><circle cx="184.9" cy="802.9" r="4.2"/><circle cx="187.7" cy="802.7" r="4.2"/><circle cx="190.6" cy="802.5" r="4.2"/><circle cx="193.5" cy="802.3" r="4.2"/><circle cx="196.3" cy="802.1" r="4.2"/><circle cx="199.2" cy="802" r="4.2"/><circle cx="202.1" cy="801.8" r="4.2"/><circle cx="204.9" cy="801.7" r="4.2"/><circle cx="207.8" cy="801.6" r="4.2"/><circle cx="210.7" cy="801.5" r="4.2"/><circle cx="213.5" cy="801.5" r="4.2"/><circle cx="216.4" cy="801.5" r="4.2"/><circle cx="219.2" cy="801.5" r="4.2"/><circle cx="222.1" cy="801.5" r="4.2"/><circle cx="225" cy="801.5" r="4.2"/><circle cx="227.8" cy="801.5" r="4.2"/><circle cx="230.7" cy="801.5" r="4.2"/><circle cx="233.6" cy="801.5" r="4.2"/><circle cx="236.4" cy="801.5" r="4.2"/><circle cx="239.3" cy="801.5" r="4.2"/><circle cx="242.2" cy="801.5" r="4.2"/><circle cx="245" cy="801.5" r="4.2"/><circle cx="247.9" cy="801.4" r="4.2"/><circle cx="250.8" cy="801.4" r="4.2"/><circle cx="253.6" cy="801.3" r="4.2"/><circle cx="256.5" cy="801.3" r="4.2"/><circle cx="259.4" cy="801.2" r="4.2"/><circle cx="262.2" cy="801.1" r="4.2"/><circle cx="265.1" cy="801" r="4.2"/><circle cx="268" cy="800.9" r="4.2"/><circle cx="270.8" cy="800.7" r="4.2"/><circle cx="273.7" cy="800.4" r="4.2"/><circle cx="276.6" cy="800" r="4.2"/><circle cx="279.4" cy="799.6" r="4.2"/><circle cx="282.3" cy="799.2" r="4.2"/><circle cx="285.2" cy="798.7" r="4.2"/><circle cx="288" cy="798.1" r="4.2"/><circle cx="290.9" cy="797.5" r="4.2"/><circle cx="293.8" cy="796.8" r="4.2"/><circle cx="296.6" cy="795.7" r="4.2"/><circle cx="299.5" cy="794.3" r="4.2"/><circle cx="302.4" cy="792.7" r="4.2"/><circle cx="305.2" cy="791" r="4.2"/><circle cx="308.1" cy="789.2" r="4.2"/><circle cx="311" cy="787.3" r="4.2"/><circle cx="313.8" cy="785.2" r="4.2"/><circle cx="316.7" cy="783" r="4.2"/><circle cx="319.6" cy="780.6" r="4.2"/><circle cx="322.4" cy="777.9" r="4.2"/><circle cx="325.3" cy="775.1" r="4.2"/><circle cx="328.2" cy="772.1" r="4.2"/><circle cx="331" cy="769" r="4.2"/><circle cx="333.9" cy="765.7" r="4.2"/><circle cx="336.8" cy="762.2" r="4.2"/><circle cx="339.6" cy="758.4" r="4.2"/><circle cx="342.5" cy="754.5" r="4.2"/><circle cx="345.7" cy="774" r="4.2"/></g>
<path fill="#55ff2a" d="M90.7 813.9h10.6l-5.3 9zM93.6 811.1h10.6l-5.3 9zM96.4 808.5h10.6l-5.3 9zM99.3 807.2h10.6l-5.3 9zM102.2 805.2h10.6l-5.3 9zM105 803.8h10.6l-5.3 9zM107.9 802.5h10.6l-5.3 9zM110.7 801.5h10.6l-5.3 9zM113.6 800.2h10.6l-5.3 9zM116.5 799.4h10.6l-5.3 9zM119.3 798.2h10.6l-5.3 9zM122.2 797.6h10.6l-5.3 9zM125 797.7h10.6l-5.3 9zM127.9 796.2h10.6l-5.3 9zM130.8 795.5h10.6l-5.3 9zM133.6 795.2h10.6l-5.3 9zM136.5 794.7h10.6l-5.3 9zM139.4 793.7h10.6l-5.3 9zM142.2 793.5h10.6l-5.3 9zM145.1 793.4h10.6l-5.3 9zM147.9 792.8h10.6l-5.3 9zM150.8 792.4h10.6l-5.3 9zM153.7 792.4h10.6l-5.3 9zM156.5 791.3h10.6l-5.3 9zM159.4 791.1h10.6l-5.3 9zM162.3 790.4h10.6l-5.3 9zM165.1 790.6h10.6l-5.3 9zM168 789.1h10.6l-5.3 9zM170.8 789.1h10.6l-5.3 9zM173.7 788.8h10.6l-5.3 9zM176.6 788.8h10.6l-5.3 9zM179.4 788.5h10.6l-5.3 9zM182.3 788.5h10.6l-5.3 9zM185.2 787.3h10.6l-5.3 9zM188 787.8h10.6l-5.3 9zM190.9 787.2h10.6l-5.3 9zM193.8 786.9h10.6l-5.3 9zM196.6 787h10.6l-5.3 9zM199.5 786.2h10.6l-5.3 9zM202.3 785.5h10.6l-5.3 9zM205.2 785.8h10.6l-5.3 9zM208.1 785.3h10.6l-5.3 9zM210.9 785.5h10.6l-5.3 9zM213.8 785.9h10.6l-5.3 9zM216.6 786h10.6l-5.3 9zM219.5 786.5h10.6l-5.3 9zM222.4 786.2h10.6l-5.3 9zM225.2 785.9h10.6l-5.3 9zM228.1 786.4h10.6l-5.3 9zM231 786.5h10.6l-5.3 9zM233.8 786.5h10.6l-5.3 9zM236.7 787.1h10.6l-5.3 9zM239.5 786.9h10.6l-5.3 9zM242.4 786.6h10.6l-5.3 9zM245.3 787.5h10.6l-5.3 9zM248.1 787.3h10.6l-5.3 9zM251 787.5h10.6l-5.3 9zM253.9 787.5h10.6l-5.3 9zM256.7 787.7h10.6l-5.3 9zM259.6 787.5h10.6l-5.3 9zM262.4 787.9h10.6l-5.3 9zM265.3 787.6h10.6l-5.3 9zM268.2 787.4h10.6l-5.3 9zM271 787.3h10.6l-5.3 9zM273.9 786.6h10.6l-5.3 9zM276.8 786.8h10.6l-5.3 9zM279.6 786.5h10.6l-5.3 9zM282.5 786.3h10.6l-5.3 9zM285.3 785.5h10.6l-5.3 9zM288.2 785.6h10.6l-5.3 9zM291.1 783.8h10.6l-5.3 9zM293.9 781.6h10.6l-5.3 9zM296.8 779.2h10.6l-5.3 9zM299.7 776.5h10.6l-5.3 9zM302.5 772.9h10.6l-5.3 9zM305.4 768.4h10.6l-5.3 9zM308.2 764.2h10.6l-5.3 9zM311.1 759.3h10.6l-5.3 9zM314 755.9h10.6l-5.3 9zM316.8 752.7h10.6l-5.3 9zM319.7 751h10.6l-5.3 9zM325.7 727.2h10.6l-5.3 9zM328.6 717.9h10.6l-5.3 9zM331.5 707.6h10.6l-5.3 9zM334.4 698h10.6l-5.3 9zM337.3 688.2h10.6l-5.3 9zM340.2 678.8h10.6l-5.3 9zM343.1 668.6h10.6l-5.3 9zM346 658.9h10.6l-5.3 9zM348.9 649.3h10.6l-5.3 9zM351.9 639.4h10.6l-5.3 9zM354.8 629.8h10.6l-5.3 9zM357.7 620.1h10.6l-5.3 9zM360.6 610.1h10.6l-5.3 9zM363.5 600.4h10.6l-5.3 9zM366.4 590.5h10.6l-5.3 9zM369.3 581.8h10.6l-5.3 9zM372.2 575.1h10.6l-5.3 9zM374.7 571.4h10.6l-5.3 9zM377.2 568.6h10.6l-5.3 9zM379.7 566.3h10.6l-5.3 9zM382.2 564.7h10.6l-5.3 9zM384.6 563.5h10.6l-5.3 9zM387.1 563.7h10.6l-5.3 9zM389.6 564.5h10.6l-5.3 9zM392.1 565.9h10.6l-5.3 9zM394.6 568.9h10.6l-5.3 9zM397.1 573h10.6l-5.3 9zM399.6 577.5h10.6l-5.3 9zM402.1 582h10.6l-5.3 9zM404.6 585.6h10.6l-5.3 9zM407 589.9h10.6l-5.3 9zM409.5 593.7h10.6l-5.3 9zM412 597.5h10.6l-5.3 9zM414.5 601.3h10.6l-5.3 9zM417 604h10.6l-5.3 9zM419.5 607h10.6l-5.3 9zM422 610.4h10.6l-5.3 9zM424.5 613.8h10.6l-5.3 9zM427 617.1h10.6l-5.3 9zM429.4 619.8h10.6l-5.3 9zM431.9 622.4h10.6l-5.3 9zM434.4 625.4h10.6l-5.3 9zM436.9 628h10.6l-5.3 9zM439.4 630.3h10.6l-5.3 9zM441.9 632.7h10.6l-5.3 9zM444.4 634.5h10.6l-5.3 9zM446.9 636.5h10.6l-5.3 9zM449.4 637.8h10.6l-5.3 9zM451.8 639.7h10.6l-5.3 9zM454.3 641.3h10.6l-5.3 9zM456.8 642.3h10.6l-5.3 9zM459.3 643.5h10.6l-5.3 9zM461.8 644.6h10.6l-5.3 9zM464.3 646.2h10.6l-5.3 9zM466.8 646.9h10.6l-5.3 9zM469.3 648.3h10.6l-5.3 9zM471.8 649.6h10.6l-5.3 9zM474.2 650.9h10.6l-5.3 9zM476.7 651.8h10.6l-5.3 9zM479.2 653h10.6l-5.3 9zM481.7 653.9h10.6l-5.3 9zM484.2 654.9h10.6l-5.3 9zM486.7 655.8h10.6l-5.3 9zM489.2 656.4h10.6l-5.3 9zM491.7 657.5h10.6l-5.3 9zM494.2 658.5h10.6l-5.3 9zM496.6 658.9h10.6l-5.3 9zM499.1 659.8h10.6l-5.3 9zM501.6 660.7h10.6l-5.3 9zM504.1 661.1h10.6l-5.3 9zM506.6 661.9h10.6l-5.3 9zM509.1 662.3h10.6l-5.3 9zM511.6 663.4h10.6l-5.3 9zM514.1 664.1h10.6l-5.3 9zM516.6 664.6h10.6l-5.3 9zM519 664.6h10.6l-5.3 9zM521.5 665.2h10.6l-5.3 9zM524 665.4h10.6l-5.3 9zM526.5 665.7h10.6l-5.3 9zM529 666.3h10.6l-5.3 9zM357.4 727.8h10.6l-5.3 9zM360.3 724.8h10.6l-5.3 9zM363.2 720.6h10.6l-5.3 9zM366.1 717.7h10.6l-5.3 9zM368.9 714h10.6l-5.3 9zM371.8 710.5h10.6l-5.3 9zM374.7 708.1h10.6l-5.3 9zM377.6 705.9h10.6l-5.3 9zM380.5 703.6h10.6l-5.3 9zM383.4 702h10.6l-5.3 9zM386.3 700h10.6l-5.3 9zM389.2 698.1h10.6l-5.3 9zM392 698.2h10.6l-5.3 9zM394.9 697.2h10.6l-5.3 9zM397.8 696.2h10.6l-5.3 9zM400.7 695.4h10.6l-5.3 9zM403.6 695.1h10.6l-5.3 9zM406.5 693.9h10.6l-5.3 9zM409.4 693.1h10.6l-5.3 9zM412.3 692.8h10.6l-5.3 9zM415.1 692.8h10.6l-5.3 9zM418 691.2h10.6l-5.3 9zM420.9 691.7h10.6l-5.3 9zM423.8 690.4h10.6l-5.3 9zM426.7 689.7h10.6l-5.3 9zM429.6 690.2h10.6l-5.3 9zM432.5 689.1h10.6l-5.3 9zM435.4 688.1h10.6l-5.3 9zM438.2 687.8h10.6l-5.3 9zM441.1 687.7h10.6l-5.3 9zM444 687.2h10.6l-5.3 9zM446.9 685.9h10.6l-5.3 9zM449.8 685.7h10.6l-5.3 9zM452.7 685.3h10.6l-5.3 9zM455.6 684.2h10.6l-5.3 9zM458.5 684.1h10.6l-5.3 9zM461.3 683.5h10.6l-5.3 9zM464.2 682.8h10.6l-5.3 9zM467.1 682.4h10.6l-5.3 9zM470 682.1h10.6l-5.3 9zM472.9 681.6h10.6l-5.3 9zM475.8 680.9h10.6l-5.3 9zM478.7 680.4h10.6l-5.3 9zM481.6 680.5h10.6l-5.3 9zM484.4 679.6h10.6l-5.3 9zM487.3 679.2h10.6l-5.3 9zM490.2 678.8h10.6l-5.3 9zM493.1 678h10.6l-5.3 9zM496 678.1h10.6l-5.3 9zM498.9 676.3h10.6l-5.3 9zM501.8 676.3h10.6l-5.3 9zM504.7 675.3h10.6l-5.3 9zM507.5 675.4h10.6l-5.3 9zM510.4 674.5h10.6l-5.3 9zM513.3 672.2h10.6l-5.3 9zM516.2 671.7h10.6l-5.3 9zM90.7 818.2h10.6l-5.3 9zM93.6 816.3h10.6l-5.3 9zM96.4 814.9h10.6l-5.3 9zM99.3 813.6h10.6l-5.3 9zM102.2 812.7h10.6l-5.3 9zM105.1 811.7h10.6l-5.3 9zM107.9 810.5h10.6l-5.3 9zM110.8 809.9h10.6l-5.3 9zM113.7 808.1h10.6l-5.3 9zM116.5 808.2h10.6l-5.3 9zM119.4 807.1h10.6l-5.3 9zM122.3 807.1h10.6l-5.3 9zM125.1 806.1h10.6l-5.3 9zM128 805.4h10.6l-5.3 9zM130.9 805.3h10.6l-5.3 9zM133.8 804.4h10.6l-5.3 9zM136.6 803.9h10.6l-5.3 9zM139.5 803.2h10.6l-5.3 9zM142.4 803.2h10.6l-5.3 9zM145.2 802.9h10.6l-5.3 9zM148.1 802.7h10.6l-5.3 9zM151 801.9h10.6l-5.3 9zM153.9 801.9h10.6l-5.3 9zM156.7 801.3h10.6l-5.3 9zM159.6 801h10.6l-5.3 9zM162.5 800.9h10.6l-5.3 9zM165.3 800.8h10.6l-5.3 9zM168.2 800.1h10.6l-5.3 9zM171.1 799.8h10.6l-5.3 9zM174 799.5h10.6l-5.3 9zM176.8 799.2h10.6l-5.3 9zM179.7 798.3h10.6l-5.3 9zM182.6 798.4h10.6l-5.3 9zM185.4 797.8h10.6l-5.3 9zM188.3 798h10.6l-5.3 9zM191.2 797.7h10.6l-5.3 9zM194 798h10.6l-5.3 9zM196.9 798h10.6l-5.3 9zM199.8 797.8h10.6l-5.3 9zM202.7 798.5h10.6l-5.3 9zM205.5 798h10.6l-5.3 9zM208.4 798.4h10.6l-5.3 9zM211.3 798.2h10.6l-5.3 9zM214.1 797.7h10.6l-5.3 9zM217 797.8h10.6l-5.3 9zM219.9 798h10.6l-5.3 9zM222.8 797.9h10.6l-5.3 9zM225.6 797.9h10.6l-5.3 9zM228.5 797.8h10.6l-5.3 9zM231.4 797.4h10.6l-5.3 9zM234.2 797.8h10.6l-5.3 9zM237.1 797.2h10.6l-5.3 9zM240 798h10.6l-5.3 9zM242.9 797.7h10.6l-5.3 9zM245.7 797.7h10.6l-5.3 9zM248.6 797.8h10.6l-5.3 9zM251.5 798h10.6l-5.3 9zM254.3 797.5h10.6l-5.3 9zM257.2 797.4h10.6l-5.3 9zM260.1 797.6h10.6l-5.3 9zM262.9 797.3h10.6l-5.3 9zM265.8 797.6h10.6l-5.3 9zM268.7 798.4h10.6l-5.3 9zM271.6 797.6h10.6l-5.3 9zM274.4 798.1h10.6l-5.3 9zM277.3 797.5h10.6l-5.3 9zM280.2 798h10.6l-5.3 9zM283 797.8h10.6l-5.3 9zM285.9 797.9h10.6l-5.3 9zM288.8 797.7h10.6l-5.3 9zM291.7 797.6h10.6l-5.3 9zM294.5 796.4h10.6l-5.3 9zM297.4 795.6h10.6l-5.3 9zM300.3 794.4h10.6l-5.3 9zM303.1 793.8h10.6l-5.3 9zM306 792.2h10.6l-5.3 9zM308.9 791h10.6l-5.3 9zM311.8 788.9h10.6l-5.3 9zM314.6 787.2h10.6l-5.3 9zM317.5 783.5h10.6l-5.3 9zM320.4 781.2h10.6l-5.3 9zM323.2 778.9h10.6l-5.3 9zM326.1 775.8h10.6l-5.3 9zM329 772.8h10.6l-5.3 9zM331.8 770h10.6l-5.3 9zM334.7 766.5h10.6l-5.3 9zM337.6 763.5h10.6l-5.3 9zM340.5 760.6h10.6l-5.3 9zM343.3 756.2h10.6l-5.3 9zM346.2 751.2h10.6l-5.3 9zM349.7 760.9h10.6l-5.3 9zM423.7 697.3h10.6l-5.3 9zM518.7 688.8h10.6l-5.3 9zM527.2 672.3h10.6l-5.3 9z"/>
<rect x="66.5" y="473" width="518.5" height="373.7" fill="none" stroke="#1c1c1c" stroke-width="1.5"/><path d="M66.5 846.7v-5.9M66.5 473v5.9M78 846.7v-3.8M78 473v3.8M89.5 846.7v-3.8M89.5 473v3.8M101.1 846.7v-3.8M101.1 473v3.8M112.6 846.7v-3.8M112.6 473v3.8M124.1 846.7v-5.9M124.1 473v5.9M135.6 846.7v-3.8M135.6 473v3.8M147.2 846.7v-3.8M147.2 473v3.8M158.7 846.7v-3.8M158.7 473v3.8M170.2 846.7v-3.8M170.2 473v3.8M181.7 846.7v-5.9M181.7 473v5.9M193.2 846.7v-3.8M193.2 473v3.8M204.8 846.7v-3.8M204.8 473v3.8M216.3 846.7v-3.8M216.3 473v3.8M227.8 846.7v-3.8M227.8 473v3.8M239.3 846.7v-5.9M239.3 473v5.9M250.9 846.7v-3.8M250.9 473v3.8M262.4 846.7v-3.8M262.4 473v3.8M273.9 846.7v-3.8M273.9 473v3.8M285.4 846.7v-3.8M285.4 473v3.8M296.9 846.7v-5.9M296.9 473v5.9M308.5 846.7v-3.8M308.5 473v3.8M320 846.7v-3.8M320 473v3.8M331.5 846.7v-3.8M331.5 473v3.8M343 846.7v-3.8M343 473v3.8M354.6 846.7v-5.9M354.6 473v5.9M366.1 846.7v-3.8M366.1 473v3.8M377.6 846.7v-3.8M377.6 473v3.8M389.1 846.7v-3.8M389.1 473v3.8M400.6 846.7v-3.8M400.6 473v3.8M412.2 846.7v-5.9M412.2 473v5.9M423.7 846.7v-3.8M423.7 473v3.8M435.2 846.7v-3.8M435.2 473v3.8M446.7 846.7v-3.8M446.7 473v3.8M458.3 846.7v-3.8M458.3 473v3.8M469.8 846.7v-5.9M469.8 473v5.9M481.3 846.7v-3.8M481.3 473v3.8M492.8 846.7v-3.8M492.8 473v3.8M504.3 846.7v-3.8M504.3 473v3.8M515.9 846.7v-3.8M515.9 473v3.8M527.4 846.7v-5.9M527.4 473v5.9M538.9 846.7v-3.8M538.9 473v3.8M550.4 846.7v-3.8M550.4 473v3.8M562 846.7v-3.8M562 473v3.8M573.5 846.7v-3.8M573.5 473v3.8M585 846.7v-5.9M585 473v5.9M66.5 473h5.9M585 473h-5.9M66.5 483.7h3.8M585 483.7h-3.8M66.5 494.4h3.8M585 494.4h-3.8M66.5 505h3.8M585 505h-3.8M66.5 515.7h3.8M585 515.7h-3.8M66.5 526.4h5.9M585 526.4h-5.9M66.5 537.1h3.8M585 537.1h-3.8M66.5 547.7h3.8M585 547.7h-3.8M66.5 558.4h3.8M585 558.4h-3.8M66.5 569.1h3.8M585 569.1h-3.8M66.5 579.8h5.9M585 579.8h-5.9M66.5 590.4h3.8M585 590.4h-3.8M66.5 601.1h3.8M585 601.1h-3.8M66.5 611.8h3.8M585 611.8h-3.8M66.5 622.5h3.8M585 622.5h-3.8M66.5 633.2h5.9M585 633.2h-5.9M66.5 643.8h3.8M585 643.8h-3.8M66.5 654.5h3.8M585 654.5h-3.8M66.5 665.2h3.8M585 665.2h-3.8M66.5 675.9h3.8M585 675.9h-3.8M66.5 686.5h5.9M585 686.5h-5.9M66.5 697.2h3.8M585 697.2h-3.8M66.5 707.9h3.8M585 707.9h-3.8M66.5 718.6h3.8M585 718.6h-3.8M66.5 729.3h3.8M585 729.3h-3.8M66.5 739.9h5.9M585 739.9h-5.9M66.5 750.6h3.8M585 750.6h-3.8M66.5 761.3h3.8M585 761.3h-3.8M66.5 772h3.8M585 772h-3.8M66.5 782.6h3.8M585 782.6h-3.8M66.5 793.3h5.9M585 793.3h-5.9M66.5 804h3.8M585 804h-3.8M66.5 814.7h3.8M585 814.7h-3.8M66.5 825.3h3.8M585 825.3h-3.8M66.5 836h3.8M585 836h-3.8M66.5 846.7h5.9M585 846.7h-5.9" stroke="#1c1c1c" stroke-width="1.2" fill="none"/><g font-size="17.25" fill="#000" stroke="#000" stroke-width="0.2"><text x="68.4" y="867.4" text-anchor="middle">-0.6</text><text x="126" y="867.4" text-anchor="middle">-0.4</text><text x="183.6" y="867.4" text-anchor="middle">-0.2</text><text x="241.2" y="867.4" text-anchor="middle">0.0</text><text x="298.8" y="867.4" text-anchor="middle">0.2</text><text x="356.5" y="867.4" text-anchor="middle">0.4</text><text x="414.1" y="867.4" text-anchor="middle">0.6</text><text x="471.7" y="867.4" text-anchor="middle">0.8</text><text x="529.3" y="867.4" text-anchor="middle">1.0</text><text x="586.9" y="867.4" text-anchor="middle">1.2</text><text x="60.3" y="477.9" text-anchor="end">6</text><text x="60.3" y="531.3" text-anchor="end">5</text><text x="60.3" y="584.7" text-anchor="end">4</text><text x="60.3" y="638.1" text-anchor="end">3</text><text x="60.3" y="691.4" text-anchor="end">2</text><text x="60.3" y="744.8" text-anchor="end">1</text><text x="60.3" y="798.2" text-anchor="end">0</text><text x="60.9" y="850.4" text-anchor="end">-1</text></g>
<circle cx="104.8" cy="503.7" r="3.9" fill="#fff" stroke="#000" stroke-width="1.3"/><circle cx="104.8" cy="522.5" r="4.3" fill="#fb0d1b"/><path fill="#55ff2a" d="M99.5 538h10.6l-5.3 9z"/><g font-size="17.55" fill="#000" stroke="#000" stroke-width="0.2"><text x="122.4" y="510.4">Vitamin C 10</text><text x="122.4" y="529.1">Vitamin C 50</text><text x="122.4" y="547.9">Vitamin C 100</text></g>
<text x="19.5" y="481.3" font-size="27" font-weight="bold" fill="#000" stroke="#000" stroke-width="0.2">b</text>
<text x="328.5" y="899.8" font-size="20.3" text-anchor="middle" fill="#000" stroke="#000" stroke-width="0.2">E/V</text>
<text transform="translate(22.4 655.5) rotate(-90)" font-size="20.8" text-anchor="middle" fill="#000" stroke="#000" stroke-width="0.2">I/μA</text>
</g>
</svg>
</body>
</html>
